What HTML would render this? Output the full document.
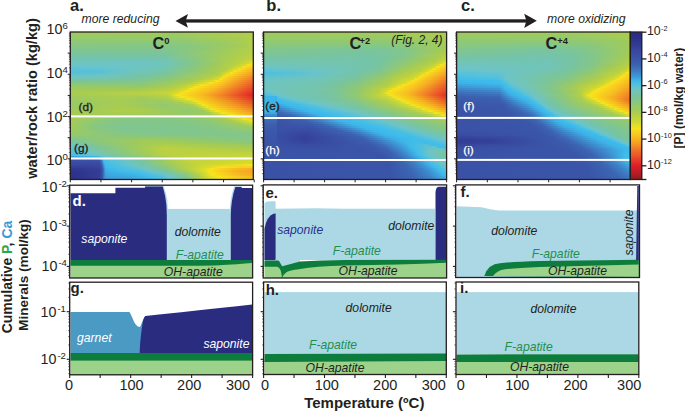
<!DOCTYPE html>
<html><head><meta charset="utf-8"><style>
html,body{margin:0;padding:0;background:#fff;width:685px;height:411px;overflow:hidden}
#hm div{position:absolute}
svg{position:absolute;left:0;top:0}
svg text{font-family:"Liberation Sans",sans-serif}
</style></head><body>
<div id="hm">
<div style="left:70px;top:32px;width:184px;height:2px;background:linear-gradient(90deg,#a0cb5c,#a2cb59 109.5px,#b1cf49)"></div>
<div style="left:70px;top:34px;width:184px;height:2px;background:linear-gradient(90deg,#9cca61,#9dca5f 109.5px,#afce4b 179.5px,#b1cf49)"></div>
<div style="left:70px;top:36px;width:184px;height:2px;background:linear-gradient(90deg,#98ca67,#99ca66 108.5px,#adcd4c 176.5px,#b1cf4a)"></div>
<div style="left:70px;top:38px;width:184px;height:2px;background:linear-gradient(90deg,#94c96d,#94c96c 107.5px,#a7cc52 168.5px,#b1cf4a)"></div>
<div style="left:70px;top:40px;width:184px;height:2px;background:linear-gradient(90deg,#90c973,#90c972 107.5px,#a3cb58 163.5px,#b1cf4a)"></div>
<div style="left:70px;top:42px;width:184px;height:2px;background:linear-gradient(90deg,#8cc878,#8bc87a 103.5px,#9bca63 151.5px,#b1cf4a)"></div>
<div style="left:70px;top:44px;width:184px;height:2px;background:linear-gradient(90deg,#89c77f,#86c783 67.5px,#89c77e 115.5px,#a2cb59 167.5px,#b1cf4a)"></div>
<div style="left:70px;top:46px;width:184px;height:2px;background:linear-gradient(90deg,#85c785,#84c687 99.5px,#8cc878 129.5px,#a6cc53 172.5px,#b2cf49)"></div>
<div style="left:70px;top:48px;width:184px;height:2px;background:linear-gradient(90deg,#82c68c,#82c68d 97.5px,#8fc873 134.5px,#b1ce4a 180.5px,#b4cf47)"></div>
<div style="left:70px;top:50px;width:184px;height:2px;background:linear-gradient(90deg,#7fc593,#7fc592 95.5px,#96c96a 142.5px,#b6d046)"></div>
<div style="left:70px;top:52px;width:184px;height:2px;background:linear-gradient(90deg,#7bc599,#7cc598 94.5px,#9aca64 146.5px,#b4cf48 178.5px,#b8d144)"></div>
<div style="left:70px;top:54px;width:184px;height:2px;background:linear-gradient(90deg,#78c4a0,#79c49d 94.5px,#9dca60 147.5px,#afce4b 169.5px,#bad143)"></div>
<div style="left:70px;top:56px;width:184px;height:2px;background:linear-gradient(90deg,#76c4a8,#76c4a6 93.5px,#95c96b 137.5px,#aece4c 165.5px,#bed240)"></div>
<div style="left:70px;top:58px;width:184px;height:2px;background:linear-gradient(90deg,#73c4af,#73c4af 91.5px,#8bc879 128.5px,#aece4c 163.5px,#bed240 179.5px,#c8d639)"></div>
<div style="left:70px;top:60px;width:184px;height:2px;background:linear-gradient(90deg,#71c4b7,#71c4b8 85.5px,#73c4b1 95.5px,#8ac87d 127.5px,#afce4b 161.5px,#bcd242 174.5px,#d2da31)"></div>
<div style="left:70px;top:62px;width:184px;height:2px;background:linear-gradient(90deg,#6fc4be,#6ec4c3 65.5px,#70c4bc 93.5px,#83c689 122.5px,#a0cb5b 148.5px,#b5d047 166.5px,#d1d931 178.5px,#d9dc2c 180.5px,#f2e21f 182.5px,#f8e11c)"></div>
<div style="left:70px;top:64px;width:184px;height:2px;background:linear-gradient(90deg,#6dc4c6,#6dc4c3 79.5px,#70c4bb 94.5px,#84c688 122.5px,#a0cb5c 146.5px,#b9d144 165.5px,#d7dc2d 175.5px,#f8e21c 178.5px,#f8d21e)"></div>
<div style="left:70px;top:66px;width:184px;height:2px;background:linear-gradient(90deg,#66c3cc,#6bc4c9 37.5px,#70c4bc 86.5px,#73c4b2 96.5px,#87c781 123.5px,#a1cb59 145.5px,#b5d046 160.5px,#d5db2e 170.5px,#dddd2a 171.5px,#f7e41c 173.5px,#f8c620)"></div>
<div style="left:70px;top:68px;width:184px;height:2px;background:linear-gradient(90deg,#5dc2d3,#61c2d0 29.5px,#6dc4c4 60.5px,#73c4b0 94.5px,#89c77e 122.5px,#a2cb58 143.5px,#b3cf48 156.5px,#d7dc2d 166.5px,#f3e31f 168.5px,#f8dd1d 170.5px,#f7b921)"></div>
<div style="left:70px;top:70px;width:184px;height:2px;background:linear-gradient(90deg,#55c0d9,#58c1d7 27.5px,#6dc4c5 58.5px,#75c4aa 94.5px,#8ac87b 121.5px,#a4cb56 142.5px,#b2cf49 153.5px,#cad637 158.5px,#d9dc2c 162.5px,#f6e41d 164.5px,#f6ac22)"></div>
<div style="left:70px;top:72px;width:184px;height:2px;background:linear-gradient(90deg,#56c0d8,#5bc1d5 27.5px,#6dc4c3 53.5px,#78c4a1 94.5px,#95c96b 126.5px,#a9cc4f 144.5px,#b2cf49 150.5px,#dcdd2a 158.5px,#f8e31c 160.5px,#f59f23)"></div>
<div style="left:70px;top:74px;width:184px;height:2px;background:linear-gradient(90deg,#62c2cf,#69c4ca 28.5px,#76c4a5 80.5px,#80c691 98.5px,#aacd4e 141.5px,#b6d046 148.5px,#d6db2d 154.5px,#f8e31c 156.5px,#f39225)"></div>
<div style="left:70px;top:76px;width:184px;height:2px;background:linear-gradient(90deg,#6dc4c6,#70c4bc 34.5px,#78c4a1 75.5px,#84c688 97.5px,#b0ce4a 140.5px,#d1d932 150.5px,#d6db2d 151.5px,#f8e31c 153.5px,#f8cf1f 158.5px,#f18426)"></div>
<div style="left:70px;top:78px;width:184px;height:2px;background:linear-gradient(90deg,#70c4ba,#75c4aa 47.5px,#7cc598 75.5px,#89c77d 97.5px,#a6cc53 127.5px,#bbd143 137.5px,#d6db2d 148.5px,#f8e31c 150.5px,#f8cb1f 156.5px,#f18126 180.5px,#ef7627)"></div>
<div style="left:70px;top:80px;width:184px;height:2px;background:linear-gradient(90deg,#77c4a2,#7fc592 70.5px,#91c971 98.5px,#a7cc52 121.5px,#b1cf4a 126.5px,#c8d639 135.5px,#d6db2d 142.5px,#f8e31c 146.5px,#ed6a28)"></div>
<div style="left:70px;top:82px;width:184px;height:2px;background:linear-gradient(90deg,#82c68b,#85c786 69.5px,#97ca69 97.5px,#adcd4d 117.5px,#b8d145 122.5px,#cbd736 128.5px,#d8dc2c 135.5px,#f8e31c 140.5px,#f8c420 152.5px,#ec5f29)"></div>
<div style="left:70px;top:84px;width:184px;height:2px;background:linear-gradient(90deg,#8ec875,#8bc879 68.5px,#9dca60 96.5px,#b7d045 115.5px,#d6db2d 126.5px,#f7e41d 131.5px,#f8c320 149.5px,#ea5429)"></div>
<div style="left:70px;top:86px;width:184px;height:2px;background:linear-gradient(90deg,#98ca67,#94c96c 68.5px,#a5cc55 96.5px,#bcd242 111.5px,#d6db2e 121.5px,#e7e025 123.5px,#f8e31c 125.5px,#f7bd21 147.5px,#e8492a)"></div>
<div style="left:70px;top:88px;width:184px;height:2px;background:linear-gradient(90deg,#9dca5f,#9fcb5d 68.5px,#aece4c 95.5px,#bed240 106.5px,#d8dc2c 117.5px,#f7e41d 120.5px,#f7bc21 143.5px,#f18726 160.5px,#e63e29)"></div>
<div style="left:70px;top:90px;width:184px;height:2px;background:linear-gradient(90deg,#a3cb58,#abcd4e 69.5px,#bfd240 99.5px,#d8dc2c 112.5px,#f8e31c 116.5px,#f7b621 141.5px,#f28c25 155.5px,#e43329)"></div>
<div style="left:70px;top:92px;width:184px;height:2px;background:linear-gradient(90deg,#a7cc51,#b9d144 73.5px,#c6d53a 98.5px,#d9dc2c 107.5px,#f7e41d 111.5px,#f7b721 136.5px,#f28b25 152.5px,#e22828)"></div>
<div style="left:70px;top:94px;width:184px;height:2px;background:linear-gradient(90deg,#a5cc55,#b6d046 84.5px,#bed240 97.5px,#d3da30 102.5px,#f2e31f 106.5px,#f8e21c 109.5px,#f7b921 132.5px,#f18426 151.5px,#e02028)"></div>
<div style="left:70px;top:96px;width:184px;height:2px;background:linear-gradient(90deg,#a1cb5a,#aacd4e 52.5px,#a8cc50 75.5px,#b4d047 97.5px,#bdd241 99.5px,#d4db2f 104.5px,#e1de28 107.5px,#f8e41c 111.5px,#f7bc21 133.5px,#f18226 154.5px,#e22a28)"></div>
<div style="left:70px;top:98px;width:184px;height:2px;background:linear-gradient(90deg,#9dca5f,#a7cc51 49.5px,#a0cb5b 72.5px,#aacd4e 97.5px,#b5d047 101.5px,#b8d144 102.5px,#c3d43d 103.5px,#d8dc2c 113.5px,#f8e31c 118.5px,#f6b122 141.5px,#ef7527 162.5px,#e53729)"></div>
<div style="left:70px;top:100px;width:184px;height:2px;background:linear-gradient(90deg,#9bca63,#a7cc52 48.5px,#9dca60 72.5px,#a1cb5a 95.5px,#aacd4e 103.5px,#cbd736 115.5px,#dadc2b 121.5px,#f4e31e 124.5px,#f8d81e 128.5px,#f39225 157.5px,#e7452a)"></div>
<div style="left:70px;top:102px;width:184px;height:2px;background:linear-gradient(90deg,#99ca66,#a7cc51 48.5px,#99ca66 92.5px,#a8cc50 111.5px,#d3da30 125.5px,#d7dc2c 126.5px,#f6e31d 128.5px,#f49924 159.5px,#ea5229)"></div>
<div style="left:70px;top:104px;width:184px;height:2px;background:linear-gradient(90deg,#97ca69,#a5cc55 39.5px,#a7cc52 50.5px,#9aca64 79.5px,#93c96e 93.5px,#a3cb58 117.5px,#b0ce4a 122.5px,#d9dc2c 130.5px,#f7e41c 132.5px,#f28c25 168.5px,#ec6029)"></div>
<div style="left:70px;top:106px;width:184px;height:2px;background:linear-gradient(90deg,#98ca68,#a3cb57 34.5px,#a8cc50 49.5px,#a0cb5b 73.5px,#93c96e 93.5px,#9ecb5f 120.5px,#a5cc55 125.5px,#d8dc2c 134.5px,#f5e31e 136.5px,#f8d11e 143.5px,#f5a023 166.5px,#ee6e28)"></div>
<div style="left:70px;top:108px;width:184px;height:2px;background:linear-gradient(90deg,#9cca62,#a6cc53 34.5px,#accd4d 51.5px,#a5cc54 73.5px,#98ca67 96.5px,#97ca68 117.5px,#a0cb5c 128.5px,#aece4c 131.5px,#d6db2d 138.5px,#f0e220 140.5px,#f8e21c 141.5px,#f5a123 171.5px,#f07e27)"></div>
<div style="left:70px;top:110px;width:184px;height:2px;background:linear-gradient(90deg,#a0cb5c,#aacc4f 36.5px,#afce4b 53.5px,#aacd4e 73.5px,#92c96f 116.5px,#9dca5f 132.5px,#b0ce4a 136.5px,#dbdd2a 143.5px,#f8e31c 146.5px,#f6ae22 171.5px,#f38f25)"></div>
<div style="left:70px;top:112px;width:184px;height:2px;background:linear-gradient(90deg,#a3cb57,#abcd4e 58.5px,#a3cb57 84.5px,#93c96e 116.5px,#9ecb5f 136.5px,#aacc4f 139.5px,#c8d639 144.5px,#dadc2b 149.5px,#f7e41c 152.5px,#f5a723 180.5px,#f5a023)"></div>
<div style="left:70px;top:114px;width:184px;height:2px;background:linear-gradient(90deg,#a6cc52,#a3cb57 53.5px,#9aca65 118.5px,#a2cb59 139.5px,#b1ce4a 143.5px,#cad637 150.5px,#dbdd2b 156.5px,#f8e31c 160.5px,#f6af22)"></div>
<div style="left:70px;top:116px;width:184px;height:2px;background:linear-gradient(90deg,#a8cc50,#95c96c 73.5px,#98ca67 122.5px,#a1cb5a 141.5px,#aece4c 148.5px,#c7d53a 155.5px,#d7dc2d 163.5px,#f8e31c 167.5px,#f8c020)"></div>
<div style="left:70px;top:118px;width:184px;height:2px;background:linear-gradient(90deg,#a8cc51,#8ac87b 48.5px,#88c77f 79.5px,#8bc87a 119.5px,#98ca67 141.5px,#a9cc4f 154.5px,#c9d638 164.5px,#d7dc2d 170.5px,#f5e31d 174.5px,#f8ce1f)"></div>
<div style="left:70px;top:120px;width:184px;height:2px;background:linear-gradient(90deg,#a7cc52,#8bc87a 31.5px,#83c689 50.5px,#83c68a 83.5px,#86c784 119.5px,#93c96e 143.5px,#a7cc51 161.5px,#c7d539 170.5px,#d7dc2d 178.5px,#f6e41d 182.5px,#f8e11c)"></div>
<div style="left:70px;top:122px;width:184px;height:2px;background:linear-gradient(90deg,#a5cc55,#8ac87c 28.5px,#82c68c 50.5px,#83c689 112.5px,#8ec876 142.5px,#a6cc53 167.5px,#c9d638 179.5px,#d1d932)"></div>
<div style="left:70px;top:124px;width:184px;height:2px;background:linear-gradient(90deg,#a3cb57,#88c77f 26.5px,#81c68e 51.5px,#83c689 118.5px,#8ac87b 143.5px,#a2cb58 173.5px,#b4d047 180.5px,#bfd240)"></div>
<div style="left:70px;top:126px;width:184px;height:2px;background:linear-gradient(90deg,#a1cb5a,#87c782 25.5px,#80c690 51.5px,#82c68c 114.5px,#87c782 143.5px,#9fcb5d 180.5px,#a3cb57)"></div>
<div style="left:70px;top:128px;width:184px;height:2px;background:linear-gradient(90deg,#9fcb5c,#88c781 27.5px,#81c68f 52.5px,#81c68e 114.5px,#86c785 145.5px,#99ca66)"></div>
<div style="left:70px;top:130px;width:184px;height:2px;background:linear-gradient(90deg,#9ecb5f,#88c781 32.5px,#81c68e 55.5px,#80c68f 112.5px,#84c687 148.5px,#90c973)"></div>
<div style="left:70px;top:132px;width:184px;height:2px;background:linear-gradient(90deg,#9cca61,#83c68a 49.5px,#80c691 82.5px,#82c68c 150.5px,#88c780)"></div>
<div style="left:70px;top:134px;width:184px;height:2px;background:linear-gradient(90deg,#96c96a,#85c786 61.5px,#83c68b 155.5px,#84c687)"></div>
<div style="left:70px;top:136px;width:184px;height:2px;background:linear-gradient(90deg,#8cc879,#8cc878 93.5px,#86c785 149.5px,#85c787)"></div>
<div style="left:70px;top:138px;width:184px;height:2px;background:linear-gradient(90deg,#83c689,#8fc874 30.5px,#97ca68 81.5px,#93c96e 103.5px,#85c787)"></div>
<div style="left:70px;top:140px;width:184px;height:2px;background:linear-gradient(90deg,#7bc59a,#8ec875 28.5px,#a1cb5b 74.5px,#9fcb5d 96.5px,#91c970 131.5px,#86c785)"></div>
<div style="left:70px;top:142px;width:184px;height:2px;background:linear-gradient(90deg,#75c4ab,#89c77d 28.5px,#a2cb58 71.5px,#a6cc53 95.5px,#8fc874 178.5px,#8dc876)"></div>
<div style="left:70px;top:144px;width:184px;height:2px;background:linear-gradient(90deg,#6fc4bd,#84c689 27.5px,#a1cb59 68.5px,#adce4c 95.5px,#98ca67)"></div>
<div style="left:70px;top:146px;width:184px;height:2px;background:linear-gradient(90deg,#64c3ce,#6dc4c3 5.5px,#7ec593 27.5px,#9bca62 61.5px,#b7d046 92.5px,#accd4d 134.5px,#a3cb58)"></div>
<div style="left:70px;top:148px;width:184px;height:2px;background:linear-gradient(90deg,#56c0d9,#6dc4c5 9.5px,#7ec593 32.5px,#a2cb58 70.5px,#bbd143 94.5px,#b7d046 128.5px,#accd4d)"></div>
<div style="left:70px;top:150px;width:184px;height:2px;background:linear-gradient(90deg,#50bfdd,#6dc4c5 12.5px,#8cc879 51.5px,#adce4c 82.5px,#bbd143 94.5px,#b9d144 132.5px,#b4cf47)"></div>
<div style="left:70px;top:152px;width:184px;height:2px;background:linear-gradient(90deg,#4abee2,#6dc4c5 16.5px,#8ac87d 52.5px,#abcd4e 81.5px,#bbd142 94.5px,#bcd242)"></div>
<div style="left:70px;top:154px;width:184px;height:2px;background:linear-gradient(90deg,#41bde9,#6dc4c4 24.5px,#80c691 47.5px,#a4cb56 78.5px,#b9d144 94.5px,#bfd33f 133.5px,#c4d43c)"></div>
<div style="left:70px;top:156px;width:184px;height:2px;background:linear-gradient(90deg,#3c9eda,#3cb8ea 26.5px,#3ebceb 28.5px,#4ebfdf 30.5px,#6cc4c8 33.5px,#83c68b 63.5px,#abcd4e 94.5px,#c2d33d 118.5px,#cbd737)"></div>
<div style="left:70px;top:158px;width:184px;height:2px;background:linear-gradient(90deg,#3b66b2,#3b69b4 27.5px,#3c72bc 29.5px,#3c82c7 30.5px,#3cb6e8 32.5px,#48bee3 33.5px,#55c0da 35.5px,#69c4ca 48.5px,#81c68d 74.5px,#a3cb58 96.5px,#c4d43c 116.5px,#d1d932)"></div>
<div style="left:70px;top:160px;width:184px;height:2px;background:linear-gradient(90deg,#3a50a5,#3a52a6 28.5px,#3b5fad 30.5px,#3c76bf 31.5px,#3cb5e8 33.5px,#45bde5 34.5px,#4fbfde 37.5px,#5fc2d2 48.5px,#6dc4c4 55.5px,#7ac49c 72.5px,#9cca61 94.5px,#bbd142 112.5px,#c4d43c 123.5px,#d4da2f)"></div>
<div style="left:70px;top:162px;width:184px;height:2px;background:linear-gradient(90deg,#384aa1,#394ba2 28.5px,#3a55a8 30.5px,#3b64b1 31.5px,#3ca4de 33.5px,#3cbbec 34.5px,#48bee3 36.5px,#5cc1d4 49.5px,#6dc4c3 58.5px,#76c4a5 71.5px,#99ca66 93.5px,#b7d045 112.5px,#c7d53a 131.5px,#d7db2d)"></div>
<div style="left:70px;top:164px;width:184px;height:2px;background:linear-gradient(90deg,#37469e,#3849a1 29.5px,#3b5aab 31.5px,#3c72bb 32.5px,#3cb0e4 34.5px,#3dbceb 35.5px,#48bee3 41.5px,#5ec2d3 53.5px,#6dc4c4 62.5px,#73c4af 71.5px,#96c96a 95.5px,#b3cf48 112.5px,#cbd736 133.5px,#dddd2a 159.5px,#f7e41c)"></div>
<div style="left:70px;top:166px;width:184px;height:2px;background:linear-gradient(90deg,#343e96,#36449c 29.5px,#3a52a6 31.5px,#3b62b0 32.5px,#3ca2dc 34.5px,#3cb5e8 35.5px,#3cbcec 36.5px,#54c0da 53.5px,#6ec4c0 70.5px,#8cc877 95.5px,#b2cf49 113.5px,#ced834 131.5px,#dddd29 141.5px,#f8e31c 151.5px,#f8d31e 171.5px,#f8cc1f)"></div>
<div style="left:70px;top:168px;width:184px;height:2px;background:linear-gradient(90deg,#303890,#344098 29.5px,#394ca2 31.5px,#3b59aa 32.5px,#3c74bd 33.5px,#3c95d4 34.5px,#3cace2 35.5px,#3cb6e8 36.5px,#3fbdea 45.5px,#65c3ce 70.5px,#6ec4c0 75.5px,#85c786 95.5px,#b1cf49 114.5px,#d2d931 130.5px,#dede29 135.5px,#f8e31c 141.5px,#f7be21 165.5px,#f6af22)"></div>
<div style="left:70px;top:170px;width:184px;height:2px;background:linear-gradient(90deg,#2e338b,#343d95 29.5px,#3849a1 31.5px,#3a56a8 32.5px,#3c6eb8 33.5px,#3c8ecf 34.5px,#3ca6de 35.5px,#3cb0e5 36.5px,#3fbcea 52.5px,#55c0d9 70.5px,#6dc4c5 79.5px,#78c49f 93.5px,#a9cc4f 116.5px,#d0d932 130.5px,#dbdd2b 134.5px,#f6e41d 138.5px,#f6b422 164.5px,#f5a223)"></div>
<div style="left:70px;top:172px;width:184px;height:2px;background:linear-gradient(90deg,#2c3088,#333c94 26.5px,#354199 30.5px,#3a57a9 32.5px,#3c6eb8 33.5px,#3c8cce 34.5px,#3ca1db 35.5px,#3caae1 36.5px,#3ebcea 63.5px,#49bee2 71.5px,#6dc4c6 87.5px,#72c4b3 94.5px,#98ca67 116.5px,#b5d047 125.5px,#dddd29 136.5px,#f2e31f 139.5px,#f8e11c 142.5px,#f7b921 165.5px,#f5a623)"></div>
<div style="left:70px;top:174px;width:184px;height:2px;background:linear-gradient(90deg,#2c3088,#333c94 26.5px,#36429a 30.5px,#3a58a9 32.5px,#3c8bcd 34.5px,#3c9cd9 35.5px,#3ca6df 37.5px,#3cb0e4 59.5px,#3ebcea 73.5px,#62c2cf 92.5px,#6ec4c2 96.5px,#87c782 115.5px,#b0ce4a 127.5px,#d2da31 135.5px,#f7e41d 142.5px,#f7bc21 168.5px,#f6ab22)"></div>
<div style="left:70px;top:176px;width:184px;height:2px;background:linear-gradient(90deg,#2c3088,#333c94 26.5px,#343e96 29.5px,#394ca2 31.5px,#3b59aa 32.5px,#3c8acc 34.5px,#3c98d6 35.5px,#3ca0db 37.5px,#3ca9e0 59.5px,#3cb6e9 73.5px,#40bde9 79.5px,#55c0d9 92.5px,#6cc4c7 98.5px,#81c68e 115.5px,#adce4c 128.5px,#d2d931 136.5px,#f8e31c 147.5px,#f8c520 171.5px,#f7b721)"></div>
<div style="left:70px;top:178px;width:184px;height:2px;background:linear-gradient(90deg,#2c3088,#333c94 26.5px,#343e96 29.5px,#394da3 31.5px,#3b5aab 32.5px,#3c88cb 34.5px,#3c95d4 35.5px,#3c9bd8 38.5px,#3ca4dd 60.5px,#3cb4e7 76.5px,#3fbcea 84.5px,#4abee1 92.5px,#6cc4c7 101.5px,#7cc598 115.5px,#accd4d 129.5px,#d1d931 137.5px,#dedd29 144.5px,#f8e31c 153.5px,#f8c420)"></div>
<div style="left:263px;top:32px;width:184px;height:2px;background:linear-gradient(90deg,#a0cb5b,#a2cb58 112.5px,#accd4d)"></div>
<div style="left:263px;top:34px;width:184px;height:2px;background:linear-gradient(90deg,#9dca60,#9fcb5d 116.5px,#aacc4f)"></div>
<div style="left:263px;top:36px;width:184px;height:2px;background:linear-gradient(90deg,#9aca64,#9bca63 119.5px,#a5cc55 174.5px,#a8cc50)"></div>
<div style="left:263px;top:38px;width:184px;height:2px;background:linear-gradient(90deg,#97ca68,#97ca69 122.5px,#a2cb59 171.5px,#a7cc52)"></div>
<div style="left:263px;top:40px;width:184px;height:2px;background:linear-gradient(90deg,#94c96d,#92c970 119.5px,#9ecb5f 168.5px,#a5cc54)"></div>
<div style="left:263px;top:42px;width:184px;height:2px;background:linear-gradient(90deg,#90c972,#8dc876 122.5px,#99ca66 163.5px,#a5cc54)"></div>
<div style="left:263px;top:44px;width:184px;height:2px;background:linear-gradient(90deg,#8bc879,#88c781 118.5px,#90c873 149.5px,#a6cc53)"></div>
<div style="left:263px;top:46px;width:184px;height:2px;background:linear-gradient(90deg,#88c781,#82c68b 116.5px,#89c77e 143.5px,#a2cb59 178.5px,#a6cc52)"></div>
<div style="left:263px;top:48px;width:184px;height:2px;background:linear-gradient(90deg,#84c688,#7fc591 66.5px,#7ec595 117.5px,#84c687 142.5px,#9fcb5d 175.5px,#a7cc51)"></div>
<div style="left:263px;top:50px;width:184px;height:2px;background:linear-gradient(90deg,#81c68f,#7ac49c 111.5px,#81c68d 140.5px,#a1cb59 176.5px,#aacc4f)"></div>
<div style="left:263px;top:52px;width:184px;height:2px;background:linear-gradient(90deg,#7ec594,#78c49f 107.5px,#7fc591 137.5px,#a9cc4f 180.5px,#aece4c)"></div>
<div style="left:263px;top:54px;width:184px;height:2px;background:linear-gradient(90deg,#7cc599,#77c4a3 103.5px,#7bc59a 125.5px,#83c68b 141.5px,#b0ce4b 181.5px,#b3cf48)"></div>
<div style="left:263px;top:56px;width:184px;height:2px;background:linear-gradient(90deg,#79c49e,#76c4a7 101.5px,#79c49e 121.5px,#82c68c 140.5px,#a6cc52 172.5px,#bad143)"></div>
<div style="left:263px;top:58px;width:184px;height:2px;background:linear-gradient(90deg,#77c4a4,#76c4a7 67.5px,#75c4aa 100.5px,#78c4a0 119.5px,#84c688 140.5px,#a4cb55 167.5px,#b5d047 178.5px,#c8d639)"></div>
<div style="left:263px;top:60px;width:184px;height:2px;background:linear-gradient(90deg,#75c4ab,#75c4ab 100.5px,#77c4a2 117.5px,#8ac87c 142.5px,#a7cc51 166.5px,#b4cf48 174.5px,#d4da30)"></div>
<div style="left:263px;top:62px;width:184px;height:2px;background:linear-gradient(90deg,#73c4b2,#74c4ae 83.5px,#76c4a6 114.5px,#94c96d 146.5px,#abcd4e 164.5px,#b6d046 171.5px,#ced834 177.5px,#dcdd2a 180.5px,#f8e41c 182.5px,#f8df1d)"></div>
<div style="left:263px;top:64px;width:184px;height:2px;background:linear-gradient(90deg,#71c4b9,#73c4b0 67.5px,#74c4ad 99.5px,#77c4a2 116.5px,#9fcb5d 151.5px,#b1cf4a 164.5px,#bad143 168.5px,#d6db2e 175.5px,#f8e31c 178.5px,#f8d21e)"></div>
<div style="left:263px;top:66px;width:184px;height:2px;background:linear-gradient(90deg,#6ec4c2,#72c4b3 78.5px,#75c4ab 101.5px,#79c49f 116.5px,#9ecb5f 146.5px,#bad143 164.5px,#d4da2f 171.5px,#dcdd2a 172.5px,#f8e21c 174.5px,#f8c720)"></div>
<div style="left:263px;top:68px;width:184px;height:2px;background:linear-gradient(90deg,#65c3cd,#71c4b8 70.5px,#75c4ab 98.5px,#7cc599 116.5px,#9ecb5f 141.5px,#b7d045 159.5px,#d7dc2d 168.5px,#f5e31d 170.5px,#f7bc21)"></div>
<div style="left:263px;top:70px;width:184px;height:2px;background:linear-gradient(90deg,#58c1d7,#6ec4c2 60.5px,#74c4ac 96.5px,#7fc593 116.5px,#a3cb57 140.5px,#bad143 156.5px,#d5db2e 164.5px,#f8e21c 167.5px,#f6b022)"></div>
<div style="left:263px;top:72px;width:184px;height:2px;background:linear-gradient(90deg,#4dbfdf,#60c2d1 44.5px,#6ec4c3 66.5px,#75c4aa 96.5px,#82c68c 116.5px,#a9cc4f 139.5px,#bdd241 153.5px,#d8dc2c 161.5px,#f7e41c 163.5px,#f5a523)"></div>
<div style="left:263px;top:74px;width:184px;height:2px;background:linear-gradient(90deg,#54c0da,#68c3cb 48.5px,#76c4a6 94.5px,#89c77e 117.5px,#b0ce4a 138.5px,#bcd242 149.5px,#d6db2e 157.5px,#f0e220 159.5px,#f8e11c 160.5px,#f49a24)"></div>
<div style="left:263px;top:76px;width:184px;height:2px;background:linear-gradient(90deg,#5dc2d3,#6ec4c0 56.5px,#78c4a1 93.5px,#92c96f 119.5px,#b4cf47 136.5px,#bfd33f 146.5px,#d5db2f 153.5px,#dcdd2a 154.5px,#f8e31c 156.5px,#f28d25)"></div>
<div style="left:263px;top:78px;width:184px;height:2px;background:linear-gradient(90deg,#67c3cc,#71c4b9 59.5px,#7ac49d 92.5px,#9bca63 120.5px,#b7d045 134.5px,#d3da30 149.5px,#d8dc2c 150.5px,#f4e31e 152.5px,#f8da1d 155.5px,#f5a823 172.5px,#f18026)"></div>
<div style="left:263px;top:80px;width:184px;height:2px;background:linear-gradient(90deg,#6cc4c6,#72c4b4 59.5px,#78c4a1 81.5px,#7fc592 94.5px,#aacd4e 126.5px,#cbd737 140.5px,#d6db2e 146.5px,#f8e21c 149.5px,#f5a423 170.5px,#ef7427)"></div>
<div style="left:263px;top:82px;width:184px;height:2px;background:linear-gradient(90deg,#6dc4c4,#73c4b2 56.5px,#77c4a2 75.5px,#83c68a 94.5px,#aacc4f 123.5px,#bcd242 131.5px,#d1d932 139.5px,#dadc2b 142.5px,#f8e41c 145.5px,#f5a523 167.5px,#ed6928)"></div>
<div style="left:263px;top:84px;width:184px;height:2px;background:linear-gradient(90deg,#6ec4c1,#73c4b0 54.5px,#79c49f 74.5px,#87c782 94.5px,#a8cc50 118.5px,#b6d046 126.5px,#c9d638 131.5px,#dbdd2b 137.5px,#f8e41c 140.5px,#f7b521 159.5px,#ef7827 176.5px,#ec5f29)"></div>
<div style="left:263px;top:86px;width:184px;height:2px;background:linear-gradient(90deg,#6fc4bf,#74c4ad 53.5px,#7ac49b 73.5px,#8bc87a 94.5px,#aece4c 116.5px,#b8d144 123.5px,#dcdd2a 132.5px,#f7e41d 135.5px,#f7be21 153.5px,#f18426 170.5px,#ea5529)"></div>
<div style="left:263px;top:88px;width:184px;height:2px;background:linear-gradient(90deg,#6ec4c1,#73c4b2 42.5px,#7bc59b 72.5px,#8fc873 95.5px,#b4cf47 115.5px,#bcd242 119.5px,#d7dc2d 127.5px,#f4e31e 130.5px,#f8dd1d 135.5px,#f7bb21 151.5px,#f18126 168.5px,#e94c2a)"></div>
<div style="left:263px;top:90px;width:184px;height:2px;background:linear-gradient(90deg,#6ac4ca,#70c4ba 15.5px,#75c4ac 53.5px,#7bc59a 72.5px,#91c971 95.5px,#b4d047 113.5px,#bed241 117.5px,#dadd2b 124.5px,#f7e41c 127.5px,#f7be21 147.5px,#f18626 164.5px,#e7422a)"></div>
<div style="left:263px;top:92px;width:184px;height:2px;background:linear-gradient(90deg,#57c1d8,#6cc4c7 8.5px,#71c4b7 23.5px,#75c4ab 54.5px,#7bc59a 72.5px,#93c96e 95.5px,#b4cf48 111.5px,#bdd241 116.5px,#d7dc2d 121.5px,#eee221 123.5px,#f8e31c 125.5px,#f7bb21 145.5px,#f18426 162.5px,#e53829)"></div>
<div style="left:263px;top:94px;width:184px;height:2px;background:linear-gradient(90deg,#44bde6,#6cc4c7 14.5px,#71c4b7 28.5px,#75c4aa 56.5px,#7ac49c 71.5px,#95c96c 95.5px,#b5d047 110.5px,#d3da30 122.5px,#dfde28 124.5px,#f3e31f 126.5px,#f8e11c 128.5px,#f7bb21 145.5px,#f18326 161.5px,#e32e29)"></div>
<div style="left:263px;top:96px;width:184px;height:2px;background:linear-gradient(90deg,#3cb5e8,#3cb5e8 13.5px,#5ac1d6 14.5px,#6dc4c6 21.5px,#70c4ba 31.5px,#77c4a3 68.5px,#93c96e 95.5px,#b4d047 111.5px,#bed240 116.5px,#ced834 124.5px,#d7dc2d 127.5px,#f6e31d 130.5px,#f7b921 149.5px,#f18326 164.5px,#e53829)"></div>
<div style="left:263px;top:98px;width:184px;height:2px;background:linear-gradient(90deg,#3cb5e8,#3cb5e8 13.5px,#45bee5 14.5px,#6cc4c7 27.5px,#78c4a1 71.5px,#8cc879 94.5px,#b3cf48 115.5px,#bdd241 123.5px,#d6db2d 131.5px,#f3e31f 134.5px,#f8e01c 136.5px,#f7b721 153.5px,#f18226 168.5px,#e8472a)"></div>
<div style="left:263px;top:100px;width:184px;height:2px;background:linear-gradient(90deg,#3cb5e8,#3cb5e8 13.5px,#3cbcec 14.5px,#48bee3 22.5px,#68c3cb 34.5px,#70c4ba 50.5px,#78c4a1 74.5px,#87c782 94.5px,#aacc4f 117.5px,#b8d045 126.5px,#cfd834 133.5px,#d7dc2c 136.5px,#f8e41c 139.5px,#f6b422 158.5px,#f18226 172.5px,#ea5729)"></div>
<div style="left:263px;top:102px;width:184px;height:2px;background:linear-gradient(90deg,#3cb5e8,#3cb8ea 16.5px,#40bde9 25.5px,#6cc4c8 47.5px,#80c691 92.5px,#a4cb55 119.5px,#b9d144 130.5px,#d1d932 138.5px,#dbdd2a 141.5px,#f2e21f 143.5px,#f8e21c 144.5px,#f6b422 162.5px,#f18226 176.5px,#ed6628)"></div>
<div style="left:263px;top:104px;width:184px;height:2px;background:linear-gradient(90deg,#3cb5e8,#3cb5e8 13.5px,#3ca5de 14.5px,#3cbaea 24.5px,#42bde7 34.5px,#6dc4c6 57.5px,#7cc597 93.5px,#a9cc50 127.5px,#bfd33f 136.5px,#d6db2e 145.5px,#f8e31c 149.5px,#f6ac22 169.5px,#ef7827)"></div>
<div style="left:263px;top:106px;width:184px;height:2px;background:linear-gradient(90deg,#3cb5e8,#3cb5e8 13.5px,#3c90d1 14.5px,#3cb6e8 28.5px,#3fbcea 39.5px,#6dc4c5 67.5px,#78c4a0 93.5px,#a6cc53 131.5px,#bfd240 142.5px,#d7db2d 151.5px,#f5e31e 154.5px,#f8c520 166.5px,#f28b25)"></div>
<div style="left:263px;top:108px;width:184px;height:2px;background:linear-gradient(90deg,#3cb5e8,#3cb5e8 13.5px,#3c7dc3 14.5px,#3cb6e8 35.5px,#3fbdea 47.5px,#6dc4c5 76.5px,#75c4a8 94.5px,#96c96a 125.5px,#aacd4f 141.5px,#bfd240 148.5px,#d8dc2c 157.5px,#f8e31c 160.5px,#f49f24)"></div>
<div style="left:263px;top:110px;width:184px;height:2px;background:linear-gradient(90deg,#3cb5e8,#3cb5e8 13.5px,#3c6db8 14.5px,#3ca0db 33.5px,#3cb9ea 44.5px,#42bde8 57.5px,#6dc4c5 85.5px,#86c783 119.5px,#a5cc54 144.5px,#b0ce4a 150.5px,#cbd736 158.5px,#d9dc2b 163.5px,#f8e41c 166.5px,#f6b022)"></div>
<div style="left:263px;top:112px;width:184px;height:2px;background:linear-gradient(90deg,#3caae1,#3caae1 13.5px,#3b61ae 14.5px,#3c83c8 30.5px,#3cb4e7 48.5px,#3ebceb 60.5px,#62c2cf 86.5px,#6ec4c1 94.5px,#83c689 122.5px,#a5cc54 151.5px,#afce4b 156.5px,#c8d639 163.5px,#d7dc2d 169.5px,#f6e41d 172.5px,#f8c320)"></div>
<div style="left:263px;top:114px;width:184px;height:2px;background:linear-gradient(90deg,#3c8ecf,#3c8ecf 13.5px,#3b5bab 14.5px,#3b6ab5 26.5px,#3c8cce 40.5px,#3cb6e9 56.5px,#3fbcea 69.5px,#5fc2d2 91.5px,#6dc4c4 99.5px,#85c787 129.5px,#a9cc4f 162.5px,#ccd735 172.5px,#dadc2b 176.5px,#f8e31c 179.5px,#f8d41e)"></div>
<div style="left:263px;top:116px;width:184px;height:2px;background:linear-gradient(90deg,#3c7ec4,#3c7ec4 13.5px,#3a58a9 14.5px,#3b64b1 30.5px,#3c86ca 45.5px,#3cb5e8 62.5px,#3dbceb 74.5px,#53c0db 92.5px,#6dc4c5 105.5px,#88c781 141.5px,#a2cb58 167.5px,#cbd737 178.5px,#dbdd2a)"></div>
<div style="left:263px;top:118px;width:184px;height:2px;background:linear-gradient(90deg,#3c72bc,#3c72bc 13.5px,#3a55a8 14.5px,#3b62b0 36.5px,#3c84c8 51.5px,#3cb5e8 69.5px,#3dbceb 81.5px,#50bfdd 97.5px,#6dc4c4 112.5px,#83c68a 143.5px,#a1cb5a 173.5px,#c6d53b)"></div>
<div style="left:263px;top:120px;width:184px;height:2px;background:linear-gradient(90deg,#3b6ab5,#3b6ab5 13.5px,#3a54a7 14.5px,#3b60ae 42.5px,#3c84c8 58.5px,#3cb5e8 76.5px,#3dbceb 88.5px,#51bfdc 104.5px,#6dc4c5 118.5px,#84c687 150.5px,#a1cb5a 180.5px,#a9cc4f)"></div>
<div style="left:263px;top:122px;width:184px;height:2px;background:linear-gradient(90deg,#3b63b0,#3b63b0 13.5px,#3a53a6 14.5px,#3b5cac 45.5px,#3c6db8 56.5px,#3cb5e8 83.5px,#3ebceb 96.5px,#54c0da 112.5px,#6ec4c3 125.5px,#82c68b 154.5px,#9aca64)"></div>
<div style="left:263px;top:124px;width:184px;height:2px;background:linear-gradient(90deg,#3b5fad,#3b5fad 13.5px,#3a52a6 14.5px,#3a58a9 46.5px,#3b65b2 59.5px,#3c8dcf 75.5px,#3cb6e8 90.5px,#3ebceb 103.5px,#54c0da 119.5px,#6dc4c4 131.5px,#7fc592 157.5px,#92c970)"></div>
<div style="left:263px;top:126px;width:184px;height:2px;background:linear-gradient(90deg,#3b5cac,#3b5cac 13.5px,#3a51a6 14.5px,#3a53a7 47.5px,#3b66b2 66.5px,#3c8ecf 82.5px,#3cb6e8 97.5px,#3ebcea 110.5px,#53c0db 125.5px,#6dc4c3 138.5px,#7fc593 163.5px,#8cc879)"></div>
<div style="left:263px;top:128px;width:184px;height:2px;background:linear-gradient(90deg,#3b5aab,#3b5aab 13.5px,#3a51a5 14.5px,#394fa4 47.5px,#3b65b1 72.5px,#3c88cb 87.5px,#3cb5e8 103.5px,#3ebceb 116.5px,#52c0dc 131.5px,#6dc4c4 144.5px,#80c690 170.5px,#88c77f)"></div>
<div style="left:263px;top:130px;width:184px;height:2px;background:linear-gradient(90deg,#3a59aa,#3a59aa 13.5px,#3a50a5 14.5px,#384aa1 44.5px,#3b63b1 78.5px,#3c86ca 93.5px,#3cb3e7 108.5px,#3cbcec 120.5px,#4bbee1 134.5px,#6dc4c4 150.5px,#7fc592 175.5px,#85c787)"></div>
<div style="left:263px;top:132px;width:184px;height:2px;background:linear-gradient(90deg,#3a58a9,#3a58a9 13.5px,#394fa4 14.5px,#37469e 42.5px,#3b64b1 85.5px,#3c7ec4 97.5px,#3cafe4 112.5px,#3cbcec 123.5px,#45bee5 137.5px,#6dc4c3 157.5px,#7ec594 180.5px,#80c690)"></div>
<div style="left:263px;top:134px;width:184px;height:2px;background:linear-gradient(90deg,#3a57a9,#3a57a9 13.5px,#394fa4 14.5px,#36439b 41.5px,#3b62b0 91.5px,#3c7bc2 101.5px,#3cafe4 118.5px,#3cbcec 130.5px,#45bee5 144.5px,#6ec4c3 164.5px,#7ac49b)"></div>
<div style="left:263px;top:136px;width:184px;height:2px;background:linear-gradient(90deg,#3a56a8,#3a56a8 13.5px,#394ea4 14.5px,#354199 41.5px,#3a56a8 80.5px,#3b64b1 98.5px,#3cade3 123.5px,#3cbcec 136.5px,#44bde6 150.5px,#6dc4c5 170.5px,#75c4a9)"></div>
<div style="left:263px;top:138px;width:184px;height:2px;background:linear-gradient(90deg,#3a55a8,#3a55a8 13.5px,#394ea4 14.5px,#354199 41.5px,#3a53a7 77.5px,#3b5fae 100.5px,#3cafe4 130.5px,#3cbcec 144.5px,#46bee5 158.5px,#6ec4c3 178.5px,#71c4b8)"></div>
<div style="left:263px;top:140px;width:184px;height:2px;background:linear-gradient(90deg,#3a55a7,#3a55a7 13.5px,#394ea4 15.5px,#36429a 41.5px,#3a53a6 79.5px,#3b5dac 102.5px,#3c76bf 114.5px,#3cb1e6 136.5px,#3ebceb 147.5px,#41bde8 161.5px,#61c2d0 178.5px,#6cc4c7)"></div>
<div style="left:263px;top:142px;width:184px;height:2px;background:linear-gradient(90deg,#3a54a7,#3a54a7 13.5px,#394fa4 16.5px,#37469e 43.5px,#3a53a6 83.5px,#3b5cab 105.5px,#3c6eb8 115.5px,#3cb7e9 142.5px,#42bde7 149.5px,#49bee2 157.5px,#44bde6 159.5px,#44bde6 160.5px,#3cbcec 161.5px,#4bbfe0 175.5px,#5dc1d3)"></div>
<div style="left:263px;top:144px;width:184px;height:2px;background:linear-gradient(90deg,#3a54a7,#3a54a7 13.5px,#394ea4 20.5px,#384aa1 47.5px,#3a59aa 106.5px,#3b68b4 117.5px,#3c92d2 132.5px,#3cbcec 146.5px,#54c0da 162.5px,#56c0d9 164.5px,#4abee1 165.5px,#4bbfe0 167.5px,#3cbcec 168.5px,#4cbfe0 182.5px,#4ebfdf)"></div>
<div style="left:263px;top:146px;width:184px;height:2px;background:linear-gradient(90deg,#3a53a7,#394da3 48.5px,#3a58a9 108.5px,#3b67b3 121.5px,#3c9ad8 138.5px,#3dbceb 148.5px,#5ec2d3 164.5px,#66c3cc 171.5px,#53c0db 172.5px,#54c0da 174.5px,#3cbcec 175.5px,#43bde7)"></div>
<div style="left:263px;top:148px;width:184px;height:2px;background:linear-gradient(90deg,#3a53a7,#3a50a5 56.5px,#3a57a9 111.5px,#3b63b0 123.5px,#3c91d1 138.5px,#3ebcea 150.5px,#67c3cb 166.5px,#6fc4bc 178.5px,#5dc2d3 179.5px,#5fc2d2 181.5px,#3cbcec 182.5px,#3dbceb)"></div>
<div style="left:263px;top:150px;width:184px;height:2px;background:linear-gradient(90deg,#3a53a7,#3a53a6 103.5px,#3b5fad 124.5px,#3c84c8 137.5px,#3cbcec 151.5px,#6cc4c8 166.5px,#74c4ad)"></div>
<div style="left:263px;top:152px;width:184px;height:2px;background:linear-gradient(90deg,#3a53a6,#3a55a8 115.5px,#3b62af 128.5px,#3c86ca 140.5px,#3ebcea 153.5px,#6dc4c6 166.5px,#77c4a3 182.5px,#77c4a3)"></div>
<div style="left:263px;top:154px;width:184px;height:2px;background:linear-gradient(90deg,#3a53a6,#3a55a8 118.5px,#3b64b1 131.5px,#3c8acc 143.5px,#3cbcec 154.5px,#6cc4c7 166.5px,#7ac49d 182.5px,#7ac49c)"></div>
<div style="left:263px;top:156px;width:184px;height:2px;background:linear-gradient(90deg,#3a53a6,#3a55a8 121.5px,#3b66b2 134.5px,#3c87ca 145.5px,#3dbceb 157.5px,#6dc4c5 169.5px,#78c49f)"></div>
<div style="left:263px;top:158px;width:184px;height:2px;background:linear-gradient(90deg,#3a52a6,#3a55a8 123.5px,#3b65b2 136.5px,#3c88cb 148.5px,#3dbceb 160.5px,#6cc4c8 171.5px,#76c4a6)"></div>
<div style="left:263px;top:160px;width:184px;height:2px;background:linear-gradient(90deg,#3a52a6,#3a55a8 124.5px,#3b65b2 138.5px,#3c86c9 150.5px,#3cabe1 159.5px,#3ebceb 163.5px,#6cc4c7 174.5px,#74c4ad)"></div>
<div style="left:263px;top:162px;width:184px;height:2px;background:linear-gradient(90deg,#3a52a6,#3a55a8 125.5px,#3b65b2 140.5px,#3c84c8 152.5px,#3cace2 162.5px,#3ebcea 166.5px,#6cc4c7 177.5px,#72c4b6)"></div>
<div style="left:263px;top:164px;width:184px;height:2px;background:linear-gradient(90deg,#3a52a6,#3a55a8 126.5px,#3b65b2 142.5px,#3c86ca 155.5px,#3cade3 165.5px,#3cbbeb 168.5px,#6dc4c6 180.5px,#6fc4bf)"></div>
<div style="left:263px;top:166px;width:184px;height:2px;background:linear-gradient(90deg,#3a52a6,#3a55a8 126.5px,#3b66b2 144.5px,#3c85c9 157.5px,#3ca6de 166.5px,#3cbcec 171.5px,#6cc4c8)"></div>
<div style="left:263px;top:168px;width:184px;height:2px;background:linear-gradient(90deg,#3a52a6,#3a55a8 126.5px,#3b65b1 145.5px,#3c84c8 159.5px,#3ca8e0 169.5px,#3ebcea 174.5px,#61c2d0)"></div>
<div style="left:263px;top:170px;width:184px;height:2px;background:linear-gradient(90deg,#3a52a6,#3a55a8 127.5px,#3b66b2 147.5px,#3c84c8 161.5px,#3ca6df 171.5px,#3cbcec 176.5px,#56c0d9)"></div>
<div style="left:263px;top:172px;width:184px;height:2px;background:linear-gradient(90deg,#3a52a6,#3a55a8 127.5px,#3b65b2 148.5px,#3c84c8 163.5px,#3ca5de 173.5px,#3ebceb 179.5px,#4bbfe1)"></div>
<div style="left:263px;top:174px;width:184px;height:2px;background:linear-gradient(90deg,#3a52a6,#3a55a8 127.5px,#3b65b2 149.5px,#3c84c8 165.5px,#3ca4dd 175.5px,#3cbcec 181.5px,#41bde8)"></div>
<div style="left:263px;top:176px;width:184px;height:2px;background:linear-gradient(90deg,#3a52a6,#3a55a8 127.5px,#3b65b2 150.5px,#3c82c7 166.5px,#3ca3dd 177.5px,#3cb8e9)"></div>
<div style="left:263px;top:178px;width:184px;height:2px;background:linear-gradient(90deg,#3a52a6,#3a55a8 127.5px,#3b66b2 151.5px,#3c83c8 168.5px,#3ca3dd 179.5px,#3cafe4)"></div>
<div style="left:457px;top:32px;width:173px;height:2px;background:linear-gradient(90deg,#a0cb5c,#a2cb59 124.5px,#abcd4e)"></div>
<div style="left:457px;top:34px;width:173px;height:2px;background:linear-gradient(90deg,#9cca61,#9dca5f 123.5px,#a8cc50)"></div>
<div style="left:457px;top:36px;width:173px;height:2px;background:linear-gradient(90deg,#98ca66,#99ca66 122.5px,#a6cc52)"></div>
<div style="left:457px;top:38px;width:173px;height:2px;background:linear-gradient(90deg,#95c96c,#95c96c 122.5px,#a1cb5a 165.5px,#a4cb55)"></div>
<div style="left:457px;top:40px;width:173px;height:2px;background:linear-gradient(90deg,#91c971,#90c972 120.5px,#9cca61 160.5px,#a2cb58)"></div>
<div style="left:457px;top:42px;width:173px;height:2px;background:linear-gradient(90deg,#8dc876,#8ac87c 83.5px,#8dc877 127.5px,#9bca62 162.5px,#a1cb59)"></div>
<div style="left:457px;top:44px;width:173px;height:2px;background:linear-gradient(90deg,#8ac87d,#85c786 103.5px,#8fc874 142.5px,#a1cb59)"></div>
<div style="left:457px;top:46px;width:173px;height:2px;background:linear-gradient(90deg,#87c783,#80c690 96.5px,#87c782 130.5px,#a1cb59)"></div>
<div style="left:457px;top:48px;width:173px;height:2px;background:linear-gradient(90deg,#83c689,#7bc59a 93.5px,#81c68e 122.5px,#99ca65 162.5px,#a1cb59)"></div>
<div style="left:457px;top:50px;width:173px;height:2px;background:linear-gradient(90deg,#80c690,#78c4a0 92.5px,#7dc595 118.5px,#89c77f 141.5px,#a2cb58)"></div>
<div style="left:457px;top:52px;width:173px;height:2px;background:linear-gradient(90deg,#7dc596,#77c4a5 92.5px,#7bc599 117.5px,#86c784 138.5px,#a4cb56)"></div>
<div style="left:457px;top:54px;width:173px;height:2px;background:linear-gradient(90deg,#7ac49c,#75c4a9 93.5px,#78c49f 114.5px,#84c689 136.5px,#a5cc54)"></div>
<div style="left:457px;top:56px;width:173px;height:2px;background:linear-gradient(90deg,#77c4a3,#74c4ad 93.5px,#77c4a4 113.5px,#82c68c 135.5px,#a7cc52)"></div>
<div style="left:457px;top:58px;width:173px;height:2px;background:linear-gradient(90deg,#75c4a9,#73c4b0 93.5px,#76c4a6 113.5px,#81c68d 134.5px,#a9cc4f)"></div>
<div style="left:457px;top:60px;width:173px;height:2px;background:linear-gradient(90deg,#73c4af,#72c4b3 91.5px,#76c4a5 113.5px,#81c68d 133.5px,#aece4c)"></div>
<div style="left:457px;top:62px;width:173px;height:2px;background:linear-gradient(90deg,#71c4b6,#72c4b6 90.5px,#77c4a4 114.5px,#82c68b 133.5px,#a6cc53 164.5px,#b3cf48)"></div>
<div style="left:457px;top:64px;width:173px;height:2px;background:linear-gradient(90deg,#70c4bc,#71c4b8 90.5px,#77c4a2 115.5px,#82c68c 132.5px,#a2cb58 158.5px,#b8d144)"></div>
<div style="left:457px;top:66px;width:173px;height:2px;background:linear-gradient(90deg,#6ec4c2,#71c4b8 89.5px,#78c4a1 114.5px,#84c688 132.5px,#a3cb57 155.5px,#b8d145 169.5px,#c6d53b)"></div>
<div style="left:457px;top:68px;width:173px;height:2px;background:linear-gradient(90deg,#6bc4c9,#6ec4c0 50.5px,#72c4b3 92.5px,#79c49e 113.5px,#87c782 132.5px,#a6cc53 153.5px,#b8d045 166.5px,#d0d932)"></div>
<div style="left:457px;top:70px;width:173px;height:2px;background:linear-gradient(90deg,#63c3cf,#6dc4c6 45.5px,#75c4ab 97.5px,#7bc599 114.5px,#8ac87c 132.5px,#abcd4e 152.5px,#b9d144 163.5px,#d6db2e 170.5px,#f2e21f)"></div>
<div style="left:457px;top:72px;width:173px;height:2px;background:linear-gradient(90deg,#5bc1d5,#65c3cd 42.5px,#6dc4c4 52.5px,#78c4a1 105.5px,#8ec876 132.5px,#b1cf49 151.5px,#bbd142 160.5px,#d6db2d 167.5px,#f5e31d 169.5px,#f8da1d)"></div>
<div style="left:457px;top:74px;width:173px;height:2px;background:linear-gradient(90deg,#53c0db,#5fc2d2 41.5px,#6dc4c5 50.5px,#7cc598 108.5px,#97ca68 134.5px,#b7d045 151.5px,#bed241 157.5px,#d7dc2d 164.5px,#f6e31d 166.5px,#f8d21e)"></div>
<div style="left:457px;top:76px;width:173px;height:2px;background:linear-gradient(90deg,#4abee2,#58c1d7 41.5px,#6dc4c6 50.5px,#75c4a9 83.5px,#82c68d 110.5px,#aacc4f 142.5px,#cdd735 158.5px,#d7dc2c 161.5px,#f7e41d 163.5px,#f8ca1f)"></div>
<div style="left:457px;top:78px;width:173px;height:2px;background:linear-gradient(90deg,#3ebcea,#4dbfe0 41.5px,#6bc4c9 49.5px,#74c4ae 71.5px,#83c689 108.5px,#afce4b 141.5px,#d2d931 156.5px,#dede29 158.5px,#f8e41c 160.5px,#f8c320)"></div>
<div style="left:457px;top:80px;width:173px;height:2px;background:linear-gradient(90deg,#3cb9ea,#3ebcea 41.5px,#47bee4 43.5px,#65c3cd 49.5px,#6ec4c3 54.5px,#78c4a1 84.5px,#89c77d 110.5px,#aacd4e 134.5px,#c0d33f 146.5px,#d8dc2c 154.5px,#f3e31e 156.5px,#f8df1d 158.5px,#f7bb21)"></div>
<div style="left:457px;top:82px;width:173px;height:2px;background:linear-gradient(90deg,#3cb1e5,#3fbcea 44.5px,#63c2cf 51.5px,#6dc4c5 56.5px,#81c68e 96.5px,#95c96b 115.5px,#aece4b 131.5px,#bfd240 142.5px,#d6db2e 150.5px,#f8e41c 153.5px,#f6b322)"></div>
<div style="left:457px;top:84px;width:173px;height:2px;background:linear-gradient(90deg,#3ca4de,#3cb3e6 42.5px,#3dbcec 46.5px,#61c2d1 53.5px,#6dc4c4 60.5px,#81c68d 94.5px,#99ca66 114.5px,#b6d046 130.5px,#c0d33f 138.5px,#d6db2e 146.5px,#f3e31e 149.5px,#f8df1d 151.5px,#f7b721 168.5px,#f6ab22)"></div>
<div style="left:457px;top:86px;width:173px;height:2px;background:linear-gradient(90deg,#3c95d4,#3ca7df 42.5px,#3cbaeb 47.5px,#45bde6 50.5px,#59c1d6 54.5px,#6dc4c6 62.5px,#82c68c 93.5px,#a3cb57 117.5px,#c0d33f 131.5px,#d3da30 141.5px,#e0de28 143.5px,#f4e31e 145.5px,#f8dc1d 149.5px,#f7b821 165.5px,#f5a323)"></div>
<div style="left:457px;top:88px;width:173px;height:2px;background:linear-gradient(90deg,#3c88cb,#3c97d6 42.5px,#3cb7e9 48.5px,#3dbceb 51.5px,#60c2d1 60.5px,#6dc4c4 66.5px,#82c68c 93.5px,#a7cc52 118.5px,#d8dc2c 138.5px,#f5e31e 141.5px,#f8c720 157.5px,#f49c24)"></div>
<div style="left:457px;top:90px;width:173px;height:2px;background:linear-gradient(90deg,#3c79c1,#3c8acc 42.5px,#3cb5e8 50.5px,#40bde9 55.5px,#6bc4c9 67.5px,#83c68a 95.5px,#a4cb56 117.5px,#bdd241 126.5px,#d6db2e 134.5px,#f4e31e 137.5px,#f8e01c 140.5px,#f7bb21 159.5px,#f39325)"></div>
<div style="left:457px;top:92px;width:173px;height:2px;background:linear-gradient(90deg,#3c6fb9,#3c7cc3 42.5px,#3cb4e7 52.5px,#3dbceb 58.5px,#6dc4c6 71.5px,#84c688 97.5px,#a1cb5a 116.5px,#b5d046 124.5px,#cad637 127.5px,#d7db2d 131.5px,#f4e31e 134.5px,#f8e01c 137.5px,#f7bc21 156.5px,#f28a25)"></div>
<div style="left:457px;top:94px;width:173px;height:2px;background:linear-gradient(90deg,#3b65b2,#3c71ba 42.5px,#3cace2 53.5px,#3cbbec 61.5px,#49bee3 65.5px,#6dc4c5 74.5px,#8bc87a 104.5px,#b1cf4a 123.5px,#ced834 127.5px,#dddd2a 129.5px,#f2e21f 131.5px,#f8e31c 133.5px,#f7ba21 154.5px,#f18526 171.5px,#f18226)"></div>
<div style="left:457px;top:96px;width:173px;height:2px;background:linear-gradient(90deg,#3b5fad,#3b67b3 42.5px,#3c88cb 49.5px,#3ca6de 55.5px,#3cbaeb 63.5px,#40bde9 67.5px,#6cc4c7 76.5px,#84c687 100.5px,#9cca61 115.5px,#b1cf49 124.5px,#c8d639 127.5px,#d7db2d 130.5px,#f4e31e 133.5px,#f8da1d 138.5px,#f5a923 158.5px,#f07927)"></div>
<div style="left:457px;top:98px;width:173px;height:2px;background:linear-gradient(90deg,#3b5bab,#3b5fae 42.5px,#3c80c5 50.5px,#3c9eda 57.5px,#3cb8ea 66.5px,#41bde9 71.5px,#6bc4c9 78.5px,#7ec595 96.5px,#96c969 114.5px,#adcd4d 125.5px,#bcd241 128.5px,#c6d53b 129.5px,#d8dc2c 134.5px,#f1e21f 136.5px,#f8e31c 137.5px,#f7b821 153.5px,#ee7128)"></div>
<div style="left:457px;top:100px;width:173px;height:2px;background:linear-gradient(90deg,#3a59aa,#3b5dac 43.5px,#3c6fb9 49.5px,#3c96d5 59.5px,#3cb6e9 69.5px,#3fbde9 74.5px,#6cc4c7 81.5px,#7bc599 96.5px,#94c96c 115.5px,#aece4c 128.5px,#d9dc2b 138.5px,#f1e21f 140.5px,#f8e31c 141.5px,#f7b821 156.5px,#f18626 168.5px,#ef7228)"></div>
<div style="left:457px;top:102px;width:173px;height:2px;background:linear-gradient(90deg,#3a56a9,#3b5bab 44.5px,#3b69b5 50.5px,#3cb4e7 72.5px,#3cbcec 76.5px,#69c4ca 83.5px,#79c49e 96.5px,#94c96c 117.5px,#adcd4c 131.5px,#d7dc2c 142.5px,#f8e31c 145.5px,#f7b621 160.5px,#f18326)"></div>
<div style="left:457px;top:104px;width:173px;height:2px;background:linear-gradient(90deg,#3a55a8,#3b59aa 45.5px,#3b64b1 51.5px,#3c9ad7 68.5px,#3cb9ea 77.5px,#3cbcec 79.5px,#6bc4c9 86.5px,#76c4a5 96.5px,#94c96c 120.5px,#a8cc50 134.5px,#bbd142 139.5px,#d6db2d 146.5px,#f8e31c 149.5px,#f6ad22 166.5px,#f39524)"></div>
<div style="left:457px;top:106px;width:173px;height:2px;background:linear-gradient(90deg,#3a54a7,#3a58a9 46.5px,#3b6bb6 57.5px,#3c96d5 71.5px,#3cb8e9 79.5px,#3dbceb 82.5px,#6cc4c7 89.5px,#76c4a8 98.5px,#9aca64 128.5px,#a9cc4f 140.5px,#cdd835 148.5px,#dadc2b 151.5px,#f4e31e 153.5px,#f8da1d 156.5px,#f6ad22 170.5px,#f5a523)"></div>
<div style="left:457px;top:108px;width:173px;height:2px;background:linear-gradient(90deg,#3a53a7,#3a57a9 47.5px,#3b66b3 59.5px,#3c89cc 71.5px,#3cb5e8 81.5px,#3ebceb 85.5px,#69c4ca 91.5px,#76c4a7 102.5px,#a3cb57 141.5px,#abcd4e 145.5px,#c8d639 151.5px,#d6db2e 155.5px,#f8e31c 158.5px,#f7b521)"></div>
<div style="left:457px;top:110px;width:173px;height:2px;background:linear-gradient(90deg,#3a53a6,#3a57a9 49.5px,#3b66b3 63.5px,#3c82c7 73.5px,#3cb6e8 84.5px,#3ebcea 88.5px,#68c3cb 94.5px,#75c4aa 105.5px,#97ca69 137.5px,#aacd4e 149.5px,#cfd833 158.5px,#d7dc2d 160.5px,#f8e31c 163.5px,#f8c620)"></div>
<div style="left:457px;top:112px;width:173px;height:2px;background:linear-gradient(90deg,#3a52a6,#3a56a8 51.5px,#3b64b1 66.5px,#3c79c1 74.5px,#3cb3e7 86.5px,#3fbdea 91.5px,#6bc4c9 98.5px,#75c4aa 109.5px,#93c96e 139.5px,#a9cc4f 154.5px,#ccd736 162.5px,#dddd2a 166.5px,#f6e41d 168.5px,#f8d41e)"></div>
<div style="left:457px;top:114px;width:173px;height:2px;background:linear-gradient(90deg,#3a52a6,#3a56a8 54.5px,#3b64b1 70.5px,#3c7fc5 78.5px,#3cb3e7 89.5px,#3ebcea 94.5px,#6cc4c7 102.5px,#7cc598 122.5px,#a0cb5c 155.5px,#aacd4f 160.5px,#ccd735 168.5px,#d7dc2d 171.5px,#e1de28)"></div>
<div style="left:457px;top:116px;width:173px;height:2px;background:linear-gradient(90deg,#3a52a6,#3a56a8 58.5px,#3b62b0 73.5px,#3c85c9 82.5px,#3cb4e7 92.5px,#3cbcec 97.5px,#4cbfe0 100.5px,#67c3cc 105.5px,#73c4b2 114.5px,#95c96b 152.5px,#a0cb5b 163.5px,#afce4b 167.5px,#c6d53b)"></div>
<div style="left:457px;top:118px;width:173px;height:2px;background:linear-gradient(90deg,#3a52a6,#3a56a8 62.5px,#3b63b0 76.5px,#3c85c9 85.5px,#3cb0e5 94.5px,#3dbceb 101.5px,#6cc4c8 111.5px,#78c4a1 127.5px,#94c96d 159.5px,#9fcb5e 169.5px,#a8cc50)"></div>
<div style="left:457px;top:120px;width:173px;height:2px;background:linear-gradient(90deg,#3a52a6,#3a57a9 67.5px,#3b63b0 79.5px,#3c86ca 88.5px,#3cb2e6 98.5px,#3cbcec 105.5px,#57c0d8 111.5px,#6cc4c7 116.5px,#79c49f 133.5px,#95c96b 168.5px,#98ca66)"></div>
<div style="left:457px;top:122px;width:173px;height:2px;background:linear-gradient(90deg,#3a52a6,#3a57a9 71.5px,#3b64b1 82.5px,#3c82c7 90.5px,#3cb3e6 102.5px,#3fbdea 111.5px,#6cc4c8 120.5px,#79c49e 137.5px,#93c96d)"></div>
<div style="left:457px;top:124px;width:173px;height:2px;background:linear-gradient(90deg,#3a52a6,#3a56a9 74.5px,#3b64b1 85.5px,#3c9bd8 99.5px,#3cb0e5 105.5px,#3cbcec 115.5px,#55c0d9 120.5px,#6cc4c7 125.5px,#79c49e 141.5px,#8ec875)"></div>
<div style="left:457px;top:126px;width:173px;height:2px;background:linear-gradient(90deg,#3a52a6,#3a56a8 76.5px,#3b64b1 88.5px,#3ca9e1 107.5px,#3cbbeb 118.5px,#41bde9 121.5px,#6ac4c9 129.5px,#77c4a3 143.5px,#8ac87d)"></div>
<div style="left:457px;top:128px;width:173px;height:2px;background:linear-gradient(90deg,#3a52a6,#3a56a8 79.5px,#3b65b2 91.5px,#3ca5de 110.5px,#3cbaeb 121.5px,#3ebceb 125.5px,#52c0dc 129.5px,#6cc4c8 134.5px,#76c4a6 147.5px,#86c785)"></div>
<div style="left:457px;top:130px;width:173px;height:2px;background:linear-gradient(90deg,#3a51a5,#3a56a8 81.5px,#3b62b0 93.5px,#3cace2 117.5px,#3cbbec 128.5px,#47bee4 132.5px,#6cc4c7 139.5px,#76c4a5 152.5px,#83c68a)"></div>
<div style="left:457px;top:132px;width:173px;height:2px;background:linear-gradient(90deg,#394fa4,#3a56a8 84.5px,#3b65b2 97.5px,#3cb1e5 124.5px,#3cbcec 134.5px,#50bfdd 138.5px,#6cc4c8 143.5px,#77c4a3 156.5px,#82c68c)"></div>
<div style="left:457px;top:134px;width:173px;height:2px;background:linear-gradient(90deg,#394ba2,#3a56a8 87.5px,#3b65b2 100.5px,#3cb4e7 130.5px,#3cbcec 139.5px,#52c0dc 143.5px,#6dc4c6 148.5px,#78c4a1 160.5px,#81c68e)"></div>
<div style="left:457px;top:136px;width:173px;height:2px;background:linear-gradient(90deg,#37459d,#394ca2 54.5px,#3b5aab 96.5px,#3c6db8 107.5px,#3cb3e6 134.5px,#3dbceb 144.5px,#4cbfe0 147.5px,#6cc4c8 152.5px,#77c4a2 163.5px,#7fc592)"></div>
<div style="left:457px;top:138px;width:173px;height:2px;background:linear-gradient(90deg,#343f97,#36439b 36.5px,#3b5aab 99.5px,#3b6ab6 110.5px,#3cb4e7 139.5px,#3dbceb 149.5px,#4dbfdf 152.5px,#6dc4c6 157.5px,#78c4a2 167.5px,#7dc597)"></div>
<div style="left:457px;top:140px;width:173px;height:2px;background:linear-gradient(90deg,#333c94,#354199 34.5px,#3b5bab 103.5px,#3b68b4 113.5px,#3cb3e6 143.5px,#3dbceb 154.5px,#4ebfde 157.5px,#6bc4c9 161.5px,#78c4a1 171.5px,#79c49f)"></div>
<div style="left:457px;top:142px;width:173px;height:2px;background:linear-gradient(90deg,#343f97,#36439b 36.5px,#3b5bab 106.5px,#3b69b4 117.5px,#3cb3e7 148.5px,#3ebceb 159.5px,#4fbfde 162.5px,#6cc4c7 166.5px,#75c4ab)"></div>
<div style="left:457px;top:144px;width:173px;height:2px;background:linear-gradient(90deg,#37459d,#394ca2 54.5px,#3b59aa 108.5px,#3b67b3 120.5px,#3cb2e6 152.5px,#3ebcea 164.5px,#50bfdd 167.5px,#6dc4c5 171.5px,#6fc4bf)"></div>
<div style="left:457px;top:146px;width:173px;height:2px;background:linear-gradient(90deg,#394ba2,#3a57a9 108.5px,#3b65b2 123.5px,#3c9eda 147.5px,#3cb8e9 161.5px,#3ebcea 169.5px,#48bee3 171.5px,#52c0dc)"></div>
<div style="left:457px;top:148px;width:173px;height:2px;background:linear-gradient(90deg,#394fa4,#3a57a9 110.5px,#3b65b2 127.5px,#3cb3e7 162.5px,#3cbcec)"></div>
<div style="left:457px;top:150px;width:173px;height:2px;background:linear-gradient(90deg,#3a51a5,#3a56a8 112.5px,#3b64b1 130.5px,#3c99d7 153.5px,#3cbaeb 168.5px,#3fbcea)"></div>
<div style="left:457px;top:152px;width:173px;height:2px;background:linear-gradient(90deg,#3a52a6,#3a56a8 115.5px,#3b64b1 133.5px,#3c92d2 152.5px,#3ebceb 168.5px,#45bde6)"></div>
<div style="left:457px;top:154px;width:173px;height:2px;background:linear-gradient(90deg,#3a52a6,#3a56a8 118.5px,#3b63b1 135.5px,#3c8acc 151.5px,#3cbcec 167.5px,#49bee3)"></div>
<div style="left:457px;top:156px;width:173px;height:2px;background:linear-gradient(90deg,#3a52a6,#3a56a8 122.5px,#3b65b2 138.5px,#3c88cb 152.5px,#3cbcec 167.5px,#4bbee1)"></div>
<div style="left:457px;top:158px;width:173px;height:2px;background:linear-gradient(90deg,#3a52a6,#3a56a8 124.5px,#3b66b2 140.5px,#3c86ca 153.5px,#3cb6e8 166.5px,#41bde8 169.5px,#4cbfe0)"></div>
<div style="left:457px;top:160px;width:173px;height:2px;background:linear-gradient(90deg,#3a52a6,#3a55a8 125.5px,#3b66b2 142.5px,#3c86c9 155.5px,#3caee4 166.5px,#3fbcea 170.5px,#46bee4)"></div>
<div style="left:457px;top:162px;width:173px;height:2px;background:linear-gradient(90deg,#3a52a6,#3a56a8 127.5px,#3b65b1 144.5px,#3c86c9 158.5px,#3caee3 169.5px,#3cbaeb)"></div>
<div style="left:457px;top:164px;width:173px;height:2px;background:linear-gradient(90deg,#3a52a6,#3a55a8 128.5px,#3b66b2 147.5px,#3c86ca 161.5px,#3caee3)"></div>
<div style="left:457px;top:166px;width:173px;height:2px;background:linear-gradient(90deg,#3a52a6,#3a55a8 129.5px,#3b65b2 149.5px,#3c84c8 163.5px,#3ca1dc)"></div>
<div style="left:457px;top:168px;width:173px;height:2px;background:linear-gradient(90deg,#3a52a6,#3a55a8 130.5px,#3b64b1 151.5px,#3c84c8 166.5px,#3c96d5)"></div>
<div style="left:457px;top:170px;width:173px;height:2px;background:linear-gradient(90deg,#3a52a6,#3a55a8 130.5px,#3b64b1 153.5px,#3c82c7 168.5px,#3c8dcf)"></div>
<div style="left:457px;top:172px;width:173px;height:2px;background:linear-gradient(90deg,#3a52a6,#3a55a8 131.5px,#3b65b2 156.5px,#3c83c7 171.5px,#3c86c9)"></div>
<div style="left:457px;top:174px;width:173px;height:2px;background:linear-gradient(90deg,#3a52a6,#3a55a8 131.5px,#3b65b2 158.5px,#3c7fc5)"></div>
<div style="left:457px;top:176px;width:173px;height:2px;background:linear-gradient(90deg,#3a52a6,#3a55a8 132.5px,#3b65b2 160.5px,#3c78c0)"></div>
<div style="left:457px;top:178px;width:173px;height:2px;background:linear-gradient(90deg,#3a52a6,#3a55a8 132.5px,#3b64b1 161.5px,#3c74bd)"></div>
<div style="left:631px;top:32px;width:11px;height:148px;background:linear-gradient(180deg,#2a2c80 0.0%,#2b2e84 2.0%,#2c3088 4.1%,#2f358d 6.1%,#323a92 8.2%,#354098 10.2%,#37469e 12.2%,#394ba2 14.3%,#3a50a5 16.3%,#3a56a8 18.4%,#3b5cac 20.4%,#3b64b1 22.4%,#3c70ba 24.5%,#3c7dc4 26.5%,#3c8dcf 28.6%,#3c9fda 30.6%,#3cb5e8 32.7%,#4abee2 34.7%,#5ec2d2 36.7%,#6ec4c2 38.8%,#73c4b1 40.8%,#78c4a0 42.9%,#80c691 44.9%,#87c782 46.9%,#8fc874 49.0%,#98ca66 51.0%,#a2cb59 53.1%,#adcd4d 55.1%,#bbd143 57.1%,#c7d539 59.2%,#d1d931 61.2%,#e3df27 63.3%,#f8e01c 65.3%,#f8d41e 67.3%,#f8c820 69.4%,#f7ba21 71.4%,#f6aa22 73.5%,#f49a24 75.5%,#f18726 77.6%,#ef7427 79.6%,#ec6329 81.6%,#ea5329 83.7%,#e7422a 85.7%,#e33129 87.8%,#e02028 89.8%,#d11e26 91.8%,#c21d25 93.9%,#b21c23 95.9%,#9f1b21 98.0%,#8c1a1e 100.0%)"></div>
</div>
<svg width="685" height="411" viewBox="0 0 685 411" fill="#231f20">
<text x="70" y="11" font-size="16.5" font-weight="bold">a.</text>
<text x="266.3" y="10.8" font-size="16.5" font-weight="bold">b.</text>
<text x="461" y="11" font-size="16.5" font-weight="bold">c.</text>
<text x="81.6" y="23.3" font-size="12.2" font-style="italic">more reducing</text>
<text x="547" y="23.4" font-size="12.2" font-style="italic">more oxidizing</text>
<rect x="185" y="19.3" width="342" height="3.3" fill="#231f20"/>
<path d="M175.5 20.9 L188 14 L185.6 20.9 L188 27.8 Z" fill="#231f20"/>
<path d="M536.8 20.8 L524.2 13.8 L526.4 20.8 L524.2 28 Z" fill="#231f20"/>
<text transform="translate(37,98.5) rotate(-90)" font-size="14.6" font-weight="bold" text-anchor="middle">water/rock ratio (kg/kg)</text>
<text transform="translate(11.6,277) rotate(-90)" font-size="14" font-weight="bold" text-anchor="middle">Cumulative <tspan fill="#2aa84a">P</tspan>, <tspan fill="#3a9ad4">Ca</tspan></text>
<text transform="translate(27.5,275) rotate(-90)" font-size="13.6" font-weight="bold" text-anchor="middle">Minerals (mol/kg)</text>
<text transform="translate(682.6,98.1) rotate(-90)" font-size="12" font-weight="bold" text-anchor="middle">[P] (mol/kg water)</text>
<text x="364.3" y="407.9" font-size="15" font-weight="bold" text-anchor="middle">Temperature (ºC)</text>
<line x1="68.89999999999999" y1="46.78" x2="70.3" y2="46.78" stroke="#231f20" stroke-width="0.6"/>
<line x1="261.90000000000003" y1="46.78" x2="263.3" y2="46.78" stroke="#231f20" stroke-width="0.6"/>
<line x1="455.20000000000005" y1="46.78" x2="456.6" y2="46.78" stroke="#231f20" stroke-width="0.6"/>
<line x1="68.89999999999999" y1="43.05" x2="70.3" y2="43.05" stroke="#231f20" stroke-width="0.6"/>
<line x1="261.90000000000003" y1="43.05" x2="263.3" y2="43.05" stroke="#231f20" stroke-width="0.6"/>
<line x1="455.20000000000005" y1="43.05" x2="456.6" y2="43.05" stroke="#231f20" stroke-width="0.6"/>
<line x1="68.89999999999999" y1="40.41" x2="70.3" y2="40.41" stroke="#231f20" stroke-width="0.6"/>
<line x1="261.90000000000003" y1="40.41" x2="263.3" y2="40.41" stroke="#231f20" stroke-width="0.6"/>
<line x1="455.20000000000005" y1="40.41" x2="456.6" y2="40.41" stroke="#231f20" stroke-width="0.6"/>
<line x1="68.89999999999999" y1="38.36" x2="70.3" y2="38.36" stroke="#231f20" stroke-width="0.6"/>
<line x1="261.90000000000003" y1="38.36" x2="263.3" y2="38.36" stroke="#231f20" stroke-width="0.6"/>
<line x1="455.20000000000005" y1="38.36" x2="456.6" y2="38.36" stroke="#231f20" stroke-width="0.6"/>
<line x1="68.89999999999999" y1="36.69" x2="70.3" y2="36.69" stroke="#231f20" stroke-width="0.6"/>
<line x1="261.90000000000003" y1="36.69" x2="263.3" y2="36.69" stroke="#231f20" stroke-width="0.6"/>
<line x1="455.20000000000005" y1="36.69" x2="456.6" y2="36.69" stroke="#231f20" stroke-width="0.6"/>
<line x1="68.89999999999999" y1="35.27" x2="70.3" y2="35.27" stroke="#231f20" stroke-width="0.6"/>
<line x1="261.90000000000003" y1="35.27" x2="263.3" y2="35.27" stroke="#231f20" stroke-width="0.6"/>
<line x1="455.20000000000005" y1="35.27" x2="456.6" y2="35.27" stroke="#231f20" stroke-width="0.6"/>
<line x1="68.89999999999999" y1="34.05" x2="70.3" y2="34.05" stroke="#231f20" stroke-width="0.6"/>
<line x1="261.90000000000003" y1="34.05" x2="263.3" y2="34.05" stroke="#231f20" stroke-width="0.6"/>
<line x1="455.20000000000005" y1="34.05" x2="456.6" y2="34.05" stroke="#231f20" stroke-width="0.6"/>
<line x1="68.89999999999999" y1="32.97" x2="70.3" y2="32.97" stroke="#231f20" stroke-width="0.6"/>
<line x1="261.90000000000003" y1="32.97" x2="263.3" y2="32.97" stroke="#231f20" stroke-width="0.6"/>
<line x1="455.20000000000005" y1="32.97" x2="456.6" y2="32.97" stroke="#231f20" stroke-width="0.6"/>
<line x1="67.7" y1="53.14" x2="70.3" y2="53.14" stroke="#231f20" stroke-width="1.0"/>
<line x1="260.7" y1="53.14" x2="263.3" y2="53.14" stroke="#231f20" stroke-width="1.0"/>
<line x1="454.0" y1="53.14" x2="456.6" y2="53.14" stroke="#231f20" stroke-width="1.0"/>
<line x1="68.89999999999999" y1="67.92" x2="70.3" y2="67.92" stroke="#231f20" stroke-width="0.6"/>
<line x1="261.90000000000003" y1="67.92" x2="263.3" y2="67.92" stroke="#231f20" stroke-width="0.6"/>
<line x1="455.20000000000005" y1="67.92" x2="456.6" y2="67.92" stroke="#231f20" stroke-width="0.6"/>
<line x1="68.89999999999999" y1="64.19" x2="70.3" y2="64.19" stroke="#231f20" stroke-width="0.6"/>
<line x1="261.90000000000003" y1="64.19" x2="263.3" y2="64.19" stroke="#231f20" stroke-width="0.6"/>
<line x1="455.20000000000005" y1="64.19" x2="456.6" y2="64.19" stroke="#231f20" stroke-width="0.6"/>
<line x1="68.89999999999999" y1="61.55" x2="70.3" y2="61.55" stroke="#231f20" stroke-width="0.6"/>
<line x1="261.90000000000003" y1="61.55" x2="263.3" y2="61.55" stroke="#231f20" stroke-width="0.6"/>
<line x1="455.20000000000005" y1="61.55" x2="456.6" y2="61.55" stroke="#231f20" stroke-width="0.6"/>
<line x1="68.89999999999999" y1="59.5" x2="70.3" y2="59.5" stroke="#231f20" stroke-width="0.6"/>
<line x1="261.90000000000003" y1="59.5" x2="263.3" y2="59.5" stroke="#231f20" stroke-width="0.6"/>
<line x1="455.20000000000005" y1="59.5" x2="456.6" y2="59.5" stroke="#231f20" stroke-width="0.6"/>
<line x1="68.89999999999999" y1="57.83" x2="70.3" y2="57.83" stroke="#231f20" stroke-width="0.6"/>
<line x1="261.90000000000003" y1="57.83" x2="263.3" y2="57.83" stroke="#231f20" stroke-width="0.6"/>
<line x1="455.20000000000005" y1="57.83" x2="456.6" y2="57.83" stroke="#231f20" stroke-width="0.6"/>
<line x1="68.89999999999999" y1="56.41" x2="70.3" y2="56.41" stroke="#231f20" stroke-width="0.6"/>
<line x1="261.90000000000003" y1="56.41" x2="263.3" y2="56.41" stroke="#231f20" stroke-width="0.6"/>
<line x1="455.20000000000005" y1="56.41" x2="456.6" y2="56.41" stroke="#231f20" stroke-width="0.6"/>
<line x1="68.89999999999999" y1="55.19" x2="70.3" y2="55.19" stroke="#231f20" stroke-width="0.6"/>
<line x1="261.90000000000003" y1="55.19" x2="263.3" y2="55.19" stroke="#231f20" stroke-width="0.6"/>
<line x1="455.20000000000005" y1="55.19" x2="456.6" y2="55.19" stroke="#231f20" stroke-width="0.6"/>
<line x1="68.89999999999999" y1="54.11" x2="70.3" y2="54.11" stroke="#231f20" stroke-width="0.6"/>
<line x1="261.90000000000003" y1="54.11" x2="263.3" y2="54.11" stroke="#231f20" stroke-width="0.6"/>
<line x1="455.20000000000005" y1="54.11" x2="456.6" y2="54.11" stroke="#231f20" stroke-width="0.6"/>
<line x1="67.7" y1="74.28" x2="70.3" y2="74.28" stroke="#231f20" stroke-width="1.0"/>
<line x1="260.7" y1="74.28" x2="263.3" y2="74.28" stroke="#231f20" stroke-width="1.0"/>
<line x1="454.0" y1="74.28" x2="456.6" y2="74.28" stroke="#231f20" stroke-width="1.0"/>
<line x1="68.89999999999999" y1="89.06" x2="70.3" y2="89.06" stroke="#231f20" stroke-width="0.6"/>
<line x1="261.90000000000003" y1="89.06" x2="263.3" y2="89.06" stroke="#231f20" stroke-width="0.6"/>
<line x1="455.20000000000005" y1="89.06" x2="456.6" y2="89.06" stroke="#231f20" stroke-width="0.6"/>
<line x1="68.89999999999999" y1="85.33" x2="70.3" y2="85.33" stroke="#231f20" stroke-width="0.6"/>
<line x1="261.90000000000003" y1="85.33" x2="263.3" y2="85.33" stroke="#231f20" stroke-width="0.6"/>
<line x1="455.20000000000005" y1="85.33" x2="456.6" y2="85.33" stroke="#231f20" stroke-width="0.6"/>
<line x1="68.89999999999999" y1="82.69" x2="70.3" y2="82.69" stroke="#231f20" stroke-width="0.6"/>
<line x1="261.90000000000003" y1="82.69" x2="263.3" y2="82.69" stroke="#231f20" stroke-width="0.6"/>
<line x1="455.20000000000005" y1="82.69" x2="456.6" y2="82.69" stroke="#231f20" stroke-width="0.6"/>
<line x1="68.89999999999999" y1="80.64" x2="70.3" y2="80.64" stroke="#231f20" stroke-width="0.6"/>
<line x1="261.90000000000003" y1="80.64" x2="263.3" y2="80.64" stroke="#231f20" stroke-width="0.6"/>
<line x1="455.20000000000005" y1="80.64" x2="456.6" y2="80.64" stroke="#231f20" stroke-width="0.6"/>
<line x1="68.89999999999999" y1="78.97" x2="70.3" y2="78.97" stroke="#231f20" stroke-width="0.6"/>
<line x1="261.90000000000003" y1="78.97" x2="263.3" y2="78.97" stroke="#231f20" stroke-width="0.6"/>
<line x1="455.20000000000005" y1="78.97" x2="456.6" y2="78.97" stroke="#231f20" stroke-width="0.6"/>
<line x1="68.89999999999999" y1="77.55" x2="70.3" y2="77.55" stroke="#231f20" stroke-width="0.6"/>
<line x1="261.90000000000003" y1="77.55" x2="263.3" y2="77.55" stroke="#231f20" stroke-width="0.6"/>
<line x1="455.20000000000005" y1="77.55" x2="456.6" y2="77.55" stroke="#231f20" stroke-width="0.6"/>
<line x1="68.89999999999999" y1="76.33" x2="70.3" y2="76.33" stroke="#231f20" stroke-width="0.6"/>
<line x1="261.90000000000003" y1="76.33" x2="263.3" y2="76.33" stroke="#231f20" stroke-width="0.6"/>
<line x1="455.20000000000005" y1="76.33" x2="456.6" y2="76.33" stroke="#231f20" stroke-width="0.6"/>
<line x1="68.89999999999999" y1="75.25" x2="70.3" y2="75.25" stroke="#231f20" stroke-width="0.6"/>
<line x1="261.90000000000003" y1="75.25" x2="263.3" y2="75.25" stroke="#231f20" stroke-width="0.6"/>
<line x1="455.20000000000005" y1="75.25" x2="456.6" y2="75.25" stroke="#231f20" stroke-width="0.6"/>
<line x1="67.7" y1="95.42" x2="70.3" y2="95.42" stroke="#231f20" stroke-width="1.0"/>
<line x1="260.7" y1="95.42" x2="263.3" y2="95.42" stroke="#231f20" stroke-width="1.0"/>
<line x1="454.0" y1="95.42" x2="456.6" y2="95.42" stroke="#231f20" stroke-width="1.0"/>
<line x1="68.89999999999999" y1="110.2" x2="70.3" y2="110.2" stroke="#231f20" stroke-width="0.6"/>
<line x1="261.90000000000003" y1="110.2" x2="263.3" y2="110.2" stroke="#231f20" stroke-width="0.6"/>
<line x1="455.20000000000005" y1="110.2" x2="456.6" y2="110.2" stroke="#231f20" stroke-width="0.6"/>
<line x1="68.89999999999999" y1="106.47" x2="70.3" y2="106.47" stroke="#231f20" stroke-width="0.6"/>
<line x1="261.90000000000003" y1="106.47" x2="263.3" y2="106.47" stroke="#231f20" stroke-width="0.6"/>
<line x1="455.20000000000005" y1="106.47" x2="456.6" y2="106.47" stroke="#231f20" stroke-width="0.6"/>
<line x1="68.89999999999999" y1="103.83" x2="70.3" y2="103.83" stroke="#231f20" stroke-width="0.6"/>
<line x1="261.90000000000003" y1="103.83" x2="263.3" y2="103.83" stroke="#231f20" stroke-width="0.6"/>
<line x1="455.20000000000005" y1="103.83" x2="456.6" y2="103.83" stroke="#231f20" stroke-width="0.6"/>
<line x1="68.89999999999999" y1="101.78" x2="70.3" y2="101.78" stroke="#231f20" stroke-width="0.6"/>
<line x1="261.90000000000003" y1="101.78" x2="263.3" y2="101.78" stroke="#231f20" stroke-width="0.6"/>
<line x1="455.20000000000005" y1="101.78" x2="456.6" y2="101.78" stroke="#231f20" stroke-width="0.6"/>
<line x1="68.89999999999999" y1="100.11" x2="70.3" y2="100.11" stroke="#231f20" stroke-width="0.6"/>
<line x1="261.90000000000003" y1="100.11" x2="263.3" y2="100.11" stroke="#231f20" stroke-width="0.6"/>
<line x1="455.20000000000005" y1="100.11" x2="456.6" y2="100.11" stroke="#231f20" stroke-width="0.6"/>
<line x1="68.89999999999999" y1="98.69" x2="70.3" y2="98.69" stroke="#231f20" stroke-width="0.6"/>
<line x1="261.90000000000003" y1="98.69" x2="263.3" y2="98.69" stroke="#231f20" stroke-width="0.6"/>
<line x1="455.20000000000005" y1="98.69" x2="456.6" y2="98.69" stroke="#231f20" stroke-width="0.6"/>
<line x1="68.89999999999999" y1="97.47" x2="70.3" y2="97.47" stroke="#231f20" stroke-width="0.6"/>
<line x1="261.90000000000003" y1="97.47" x2="263.3" y2="97.47" stroke="#231f20" stroke-width="0.6"/>
<line x1="455.20000000000005" y1="97.47" x2="456.6" y2="97.47" stroke="#231f20" stroke-width="0.6"/>
<line x1="68.89999999999999" y1="96.39" x2="70.3" y2="96.39" stroke="#231f20" stroke-width="0.6"/>
<line x1="261.90000000000003" y1="96.39" x2="263.3" y2="96.39" stroke="#231f20" stroke-width="0.6"/>
<line x1="455.20000000000005" y1="96.39" x2="456.6" y2="96.39" stroke="#231f20" stroke-width="0.6"/>
<line x1="67.7" y1="116.56" x2="70.3" y2="116.56" stroke="#231f20" stroke-width="1.0"/>
<line x1="260.7" y1="116.56" x2="263.3" y2="116.56" stroke="#231f20" stroke-width="1.0"/>
<line x1="454.0" y1="116.56" x2="456.6" y2="116.56" stroke="#231f20" stroke-width="1.0"/>
<line x1="68.89999999999999" y1="131.34" x2="70.3" y2="131.34" stroke="#231f20" stroke-width="0.6"/>
<line x1="261.90000000000003" y1="131.34" x2="263.3" y2="131.34" stroke="#231f20" stroke-width="0.6"/>
<line x1="455.20000000000005" y1="131.34" x2="456.6" y2="131.34" stroke="#231f20" stroke-width="0.6"/>
<line x1="68.89999999999999" y1="127.61" x2="70.3" y2="127.61" stroke="#231f20" stroke-width="0.6"/>
<line x1="261.90000000000003" y1="127.61" x2="263.3" y2="127.61" stroke="#231f20" stroke-width="0.6"/>
<line x1="455.20000000000005" y1="127.61" x2="456.6" y2="127.61" stroke="#231f20" stroke-width="0.6"/>
<line x1="68.89999999999999" y1="124.97" x2="70.3" y2="124.97" stroke="#231f20" stroke-width="0.6"/>
<line x1="261.90000000000003" y1="124.97" x2="263.3" y2="124.97" stroke="#231f20" stroke-width="0.6"/>
<line x1="455.20000000000005" y1="124.97" x2="456.6" y2="124.97" stroke="#231f20" stroke-width="0.6"/>
<line x1="68.89999999999999" y1="122.92" x2="70.3" y2="122.92" stroke="#231f20" stroke-width="0.6"/>
<line x1="261.90000000000003" y1="122.92" x2="263.3" y2="122.92" stroke="#231f20" stroke-width="0.6"/>
<line x1="455.20000000000005" y1="122.92" x2="456.6" y2="122.92" stroke="#231f20" stroke-width="0.6"/>
<line x1="68.89999999999999" y1="121.25" x2="70.3" y2="121.25" stroke="#231f20" stroke-width="0.6"/>
<line x1="261.90000000000003" y1="121.25" x2="263.3" y2="121.25" stroke="#231f20" stroke-width="0.6"/>
<line x1="455.20000000000005" y1="121.25" x2="456.6" y2="121.25" stroke="#231f20" stroke-width="0.6"/>
<line x1="68.89999999999999" y1="119.83" x2="70.3" y2="119.83" stroke="#231f20" stroke-width="0.6"/>
<line x1="261.90000000000003" y1="119.83" x2="263.3" y2="119.83" stroke="#231f20" stroke-width="0.6"/>
<line x1="455.20000000000005" y1="119.83" x2="456.6" y2="119.83" stroke="#231f20" stroke-width="0.6"/>
<line x1="68.89999999999999" y1="118.61" x2="70.3" y2="118.61" stroke="#231f20" stroke-width="0.6"/>
<line x1="261.90000000000003" y1="118.61" x2="263.3" y2="118.61" stroke="#231f20" stroke-width="0.6"/>
<line x1="455.20000000000005" y1="118.61" x2="456.6" y2="118.61" stroke="#231f20" stroke-width="0.6"/>
<line x1="68.89999999999999" y1="117.53" x2="70.3" y2="117.53" stroke="#231f20" stroke-width="0.6"/>
<line x1="261.90000000000003" y1="117.53" x2="263.3" y2="117.53" stroke="#231f20" stroke-width="0.6"/>
<line x1="455.20000000000005" y1="117.53" x2="456.6" y2="117.53" stroke="#231f20" stroke-width="0.6"/>
<line x1="67.7" y1="137.7" x2="70.3" y2="137.7" stroke="#231f20" stroke-width="1.0"/>
<line x1="260.7" y1="137.7" x2="263.3" y2="137.7" stroke="#231f20" stroke-width="1.0"/>
<line x1="454.0" y1="137.7" x2="456.6" y2="137.7" stroke="#231f20" stroke-width="1.0"/>
<line x1="68.89999999999999" y1="152.48" x2="70.3" y2="152.48" stroke="#231f20" stroke-width="0.6"/>
<line x1="261.90000000000003" y1="152.48" x2="263.3" y2="152.48" stroke="#231f20" stroke-width="0.6"/>
<line x1="455.20000000000005" y1="152.48" x2="456.6" y2="152.48" stroke="#231f20" stroke-width="0.6"/>
<line x1="68.89999999999999" y1="148.75" x2="70.3" y2="148.75" stroke="#231f20" stroke-width="0.6"/>
<line x1="261.90000000000003" y1="148.75" x2="263.3" y2="148.75" stroke="#231f20" stroke-width="0.6"/>
<line x1="455.20000000000005" y1="148.75" x2="456.6" y2="148.75" stroke="#231f20" stroke-width="0.6"/>
<line x1="68.89999999999999" y1="146.11" x2="70.3" y2="146.11" stroke="#231f20" stroke-width="0.6"/>
<line x1="261.90000000000003" y1="146.11" x2="263.3" y2="146.11" stroke="#231f20" stroke-width="0.6"/>
<line x1="455.20000000000005" y1="146.11" x2="456.6" y2="146.11" stroke="#231f20" stroke-width="0.6"/>
<line x1="68.89999999999999" y1="144.06" x2="70.3" y2="144.06" stroke="#231f20" stroke-width="0.6"/>
<line x1="261.90000000000003" y1="144.06" x2="263.3" y2="144.06" stroke="#231f20" stroke-width="0.6"/>
<line x1="455.20000000000005" y1="144.06" x2="456.6" y2="144.06" stroke="#231f20" stroke-width="0.6"/>
<line x1="68.89999999999999" y1="142.39" x2="70.3" y2="142.39" stroke="#231f20" stroke-width="0.6"/>
<line x1="261.90000000000003" y1="142.39" x2="263.3" y2="142.39" stroke="#231f20" stroke-width="0.6"/>
<line x1="455.20000000000005" y1="142.39" x2="456.6" y2="142.39" stroke="#231f20" stroke-width="0.6"/>
<line x1="68.89999999999999" y1="140.97" x2="70.3" y2="140.97" stroke="#231f20" stroke-width="0.6"/>
<line x1="261.90000000000003" y1="140.97" x2="263.3" y2="140.97" stroke="#231f20" stroke-width="0.6"/>
<line x1="455.20000000000005" y1="140.97" x2="456.6" y2="140.97" stroke="#231f20" stroke-width="0.6"/>
<line x1="68.89999999999999" y1="139.75" x2="70.3" y2="139.75" stroke="#231f20" stroke-width="0.6"/>
<line x1="261.90000000000003" y1="139.75" x2="263.3" y2="139.75" stroke="#231f20" stroke-width="0.6"/>
<line x1="455.20000000000005" y1="139.75" x2="456.6" y2="139.75" stroke="#231f20" stroke-width="0.6"/>
<line x1="68.89999999999999" y1="138.67" x2="70.3" y2="138.67" stroke="#231f20" stroke-width="0.6"/>
<line x1="261.90000000000003" y1="138.67" x2="263.3" y2="138.67" stroke="#231f20" stroke-width="0.6"/>
<line x1="455.20000000000005" y1="138.67" x2="456.6" y2="138.67" stroke="#231f20" stroke-width="0.6"/>
<line x1="67.7" y1="158.84" x2="70.3" y2="158.84" stroke="#231f20" stroke-width="1.0"/>
<line x1="260.7" y1="158.84" x2="263.3" y2="158.84" stroke="#231f20" stroke-width="1.0"/>
<line x1="454.0" y1="158.84" x2="456.6" y2="158.84" stroke="#231f20" stroke-width="1.0"/>
<line x1="68.89999999999999" y1="173.62" x2="70.3" y2="173.62" stroke="#231f20" stroke-width="0.6"/>
<line x1="261.90000000000003" y1="173.62" x2="263.3" y2="173.62" stroke="#231f20" stroke-width="0.6"/>
<line x1="455.20000000000005" y1="173.62" x2="456.6" y2="173.62" stroke="#231f20" stroke-width="0.6"/>
<line x1="68.89999999999999" y1="169.89" x2="70.3" y2="169.89" stroke="#231f20" stroke-width="0.6"/>
<line x1="261.90000000000003" y1="169.89" x2="263.3" y2="169.89" stroke="#231f20" stroke-width="0.6"/>
<line x1="455.20000000000005" y1="169.89" x2="456.6" y2="169.89" stroke="#231f20" stroke-width="0.6"/>
<line x1="68.89999999999999" y1="167.25" x2="70.3" y2="167.25" stroke="#231f20" stroke-width="0.6"/>
<line x1="261.90000000000003" y1="167.25" x2="263.3" y2="167.25" stroke="#231f20" stroke-width="0.6"/>
<line x1="455.20000000000005" y1="167.25" x2="456.6" y2="167.25" stroke="#231f20" stroke-width="0.6"/>
<line x1="68.89999999999999" y1="165.2" x2="70.3" y2="165.2" stroke="#231f20" stroke-width="0.6"/>
<line x1="261.90000000000003" y1="165.2" x2="263.3" y2="165.2" stroke="#231f20" stroke-width="0.6"/>
<line x1="455.20000000000005" y1="165.2" x2="456.6" y2="165.2" stroke="#231f20" stroke-width="0.6"/>
<line x1="68.89999999999999" y1="163.53" x2="70.3" y2="163.53" stroke="#231f20" stroke-width="0.6"/>
<line x1="261.90000000000003" y1="163.53" x2="263.3" y2="163.53" stroke="#231f20" stroke-width="0.6"/>
<line x1="455.20000000000005" y1="163.53" x2="456.6" y2="163.53" stroke="#231f20" stroke-width="0.6"/>
<line x1="68.89999999999999" y1="162.11" x2="70.3" y2="162.11" stroke="#231f20" stroke-width="0.6"/>
<line x1="261.90000000000003" y1="162.11" x2="263.3" y2="162.11" stroke="#231f20" stroke-width="0.6"/>
<line x1="455.20000000000005" y1="162.11" x2="456.6" y2="162.11" stroke="#231f20" stroke-width="0.6"/>
<line x1="68.89999999999999" y1="160.89" x2="70.3" y2="160.89" stroke="#231f20" stroke-width="0.6"/>
<line x1="261.90000000000003" y1="160.89" x2="263.3" y2="160.89" stroke="#231f20" stroke-width="0.6"/>
<line x1="455.20000000000005" y1="160.89" x2="456.6" y2="160.89" stroke="#231f20" stroke-width="0.6"/>
<line x1="68.89999999999999" y1="159.81" x2="70.3" y2="159.81" stroke="#231f20" stroke-width="0.6"/>
<line x1="261.90000000000003" y1="159.81" x2="263.3" y2="159.81" stroke="#231f20" stroke-width="0.6"/>
<line x1="455.20000000000005" y1="159.81" x2="456.6" y2="159.81" stroke="#231f20" stroke-width="0.6"/>
<text x="62.4" y="34.1" font-size="14.3" text-anchor="end">10</text>
<text x="62.6" y="29.1" font-size="9.6">6</text>
<text x="62.4" y="78.1" font-size="14.3" text-anchor="end">10</text>
<text x="62.6" y="73.1" font-size="9.6">4</text>
<text x="62.4" y="121.9" font-size="14.3" text-anchor="end">10</text>
<text x="62.6" y="116.9" font-size="9.6">2</text>
<text x="62.4" y="164.8" font-size="14.3" text-anchor="end">10</text>
<text x="62.6" y="159.8" font-size="9.6">0</text>
<line x1="70.3" y1="179.5" x2="70.3" y2="182.3" stroke="#231f20" stroke-width="1.0"/>
<line x1="100.95" y1="179.5" x2="100.95" y2="182.3" stroke="#231f20" stroke-width="1.0"/>
<line x1="131.6" y1="179.5" x2="131.6" y2="182.3" stroke="#231f20" stroke-width="1.0"/>
<line x1="162.25" y1="179.5" x2="162.25" y2="182.3" stroke="#231f20" stroke-width="1.0"/>
<line x1="192.9" y1="179.5" x2="192.9" y2="182.3" stroke="#231f20" stroke-width="1.0"/>
<line x1="223.55" y1="179.5" x2="223.55" y2="182.3" stroke="#231f20" stroke-width="1.0"/>
<line x1="254.2" y1="179.5" x2="254.2" y2="182.3" stroke="#231f20" stroke-width="1.0"/>
<line x1="263.6" y1="179.5" x2="263.6" y2="182.3" stroke="#231f20" stroke-width="1.0"/>
<line x1="294.1" y1="179.5" x2="294.1" y2="182.3" stroke="#231f20" stroke-width="1.0"/>
<line x1="324.6" y1="179.5" x2="324.6" y2="182.3" stroke="#231f20" stroke-width="1.0"/>
<line x1="355.1" y1="179.5" x2="355.1" y2="182.3" stroke="#231f20" stroke-width="1.0"/>
<line x1="385.6" y1="179.5" x2="385.6" y2="182.3" stroke="#231f20" stroke-width="1.0"/>
<line x1="416.1" y1="179.5" x2="416.1" y2="182.3" stroke="#231f20" stroke-width="1.0"/>
<line x1="446.6" y1="179.5" x2="446.6" y2="182.3" stroke="#231f20" stroke-width="1.0"/>
<line x1="456.6" y1="179.5" x2="456.6" y2="182.3" stroke="#231f20" stroke-width="1.0"/>
<line x1="487.3" y1="179.5" x2="487.3" y2="182.3" stroke="#231f20" stroke-width="1.0"/>
<line x1="518.0" y1="179.5" x2="518.0" y2="182.3" stroke="#231f20" stroke-width="1.0"/>
<line x1="548.7" y1="179.5" x2="548.7" y2="182.3" stroke="#231f20" stroke-width="1.0"/>
<line x1="579.4" y1="179.5" x2="579.4" y2="182.3" stroke="#231f20" stroke-width="1.0"/>
<line x1="610.1" y1="179.5" x2="610.1" y2="182.3" stroke="#231f20" stroke-width="1.0"/>
<line x1="641.8" y1="32.2" x2="646.4" y2="32.2" stroke="#231f20" stroke-width="1.3"/>
<text x="660.6" y="35.2" font-size="12.3" text-anchor="end">10</text>
<text x="661.1" y="30.7" font-size="7.4">-2</text>
<line x1="641.8" y1="58.92" x2="646.4" y2="58.92" stroke="#231f20" stroke-width="1.3"/>
<text x="660.6" y="61.92" font-size="12.3" text-anchor="end">10</text>
<text x="661.1" y="57.42" font-size="7.4">-4</text>
<line x1="641.8" y1="85.64" x2="646.4" y2="85.64" stroke="#231f20" stroke-width="1.3"/>
<text x="660.6" y="88.64" font-size="12.3" text-anchor="end">10</text>
<text x="661.1" y="84.14" font-size="7.4">-6</text>
<line x1="641.8" y1="112.36" x2="646.4" y2="112.36" stroke="#231f20" stroke-width="1.3"/>
<text x="660.6" y="115.36" font-size="12.3" text-anchor="end">10</text>
<text x="661.1" y="110.86" font-size="7.4">-8</text>
<line x1="641.8" y1="139.08" x2="646.4" y2="139.08" stroke="#231f20" stroke-width="1.3"/>
<text x="660.6" y="142.08" font-size="12.3" text-anchor="end">10</text>
<text x="661.1" y="137.58" font-size="7.4">-10</text>
<line x1="641.8" y1="165.8" x2="646.4" y2="165.8" stroke="#231f20" stroke-width="1.3"/>
<text x="660.6" y="168.8" font-size="12.3" text-anchor="end">10</text>
<text x="661.1" y="164.3" font-size="7.4">-12</text>
<line x1="641.8" y1="179.5" x2="646.4" y2="179.5" stroke="#231f20" stroke-width="1.3"/>
<rect x="70.8" y="115.4" width="182.2" height="2.0" fill="#ffffff"/>
<rect x="70.8" y="157.5" width="182.2" height="2.0" fill="#ffffff"/>
<rect x="264" y="117.0" width="182.3" height="2.0" fill="#ffffff"/>
<rect x="264" y="159.0" width="182.3" height="2.0" fill="#ffffff"/>
<rect x="457.2" y="116.9" width="172.59999999999997" height="2.0" fill="#ffffff"/>
<rect x="457.2" y="158.9" width="172.59999999999997" height="2.0" fill="#ffffff"/>
<text x="152.4" y="48.6" font-size="16.3" font-weight="bold">C</text>
<text x="164.2" y="44" font-size="9.4" font-weight="bold">0</text>
<text x="349.4" y="48.6" font-size="16.3" font-weight="bold">C</text>
<text x="359.6" y="44" font-size="9.4" font-weight="bold">+2</text>
<text x="545.6" y="48.6" font-size="16.3" font-weight="bold">C</text>
<text x="557.2" y="44" font-size="9.4" font-weight="bold">+4</text>
<text x="391.2" y="44" font-size="12" font-style="italic">(Fig. 2, 4)</text>
<text x="78.5" y="110.5" font-size="11.8" stroke="#231f20" stroke-width="0.35">(d)</text>
<text x="74" y="152.3" font-size="11.8" stroke="#231f20" stroke-width="0.35">(g)</text>
<text x="265.3" y="110" font-size="11.8" stroke="#231f20" stroke-width="0.35">(e)</text>
<text x="265.3" y="153.7" font-size="11.8" fill="#ffffff" stroke="#ffffff" stroke-width="0.25">(h)</text>
<text x="463.3" y="109.5" font-size="11.8" fill="#ffffff" stroke="#ffffff" stroke-width="0.25">(f)</text>
<text x="463.3" y="154" font-size="11.8" fill="#ffffff" stroke="#ffffff" stroke-width="0.25">(i)</text>
<rect x="70.3" y="32.0" width="183.0" height="147.5" fill="none" stroke="#231f20" stroke-width="1.3"/>
<rect x="263.6" y="32.0" width="183.0" height="147.5" fill="none" stroke="#231f20" stroke-width="1.3"/>
<rect x="456.6" y="32.0" width="173.69999999999993" height="147.5" fill="none" stroke="#231f20" stroke-width="1.3"/>
<rect x="630.3" y="32.0" width="11.5" height="147.5" fill="none" stroke="#231f20" stroke-width="1.3"/>
<rect x="70.5" y="262" width="182" height="16" fill="#9dd28a"/>
<rect x="166" y="208.9" width="66" height="52" fill="#acd8e6"/>
<path d="M145 185.9 L163.6 185.9 Q166 192 167.3 200 L167.8 209 L166 209 Z" fill="#acd8e6"/>
<path d="M234.4 186.2 L241.6 186.2 L241.6 188 L236 209 L229.9 209 Q230.6 195 234.4 186.2 Z" fill="#acd8e6"/>
<path d="M70.5 193.2 L115.4 193.2 L115.4 187.7 L145.1 187.7 L145.1 186.5 L162.8 186.5 Q165.6 196 166.4 205 L166.8 215 L166.8 260 L70.5 260 Z" fill="#2a2c80"/>
<path d="M235.3 186.9 L241.6 186.9 L241.6 188.1 L252 188.1 L252 260 L230.8 260 L230.8 215 Q231 200 235.3 186.9 Z" fill="#2a2c80"/>
<path d="M70.5 259.9 L252 259.9 L252 263.1 Q240 264.2 215 265.4 L200 265.8 L70.5 265.8 Z" fill="#0d7d3d"/>
<text x="72.5" y="206.3" font-size="15" font-weight="bold" fill="#ffffff">d.</text>
<text x="81.3" y="243.1" font-size="12.2" font-style="italic" fill="#ffffff">saponite</text>
<text x="174.8" y="235.8" font-size="12.2" font-style="italic">dolomite</text>
<text x="175.8" y="258.9" font-size="12.2" font-style="italic" fill="#1f8f4e">F-apatite</text>
<text x="163.8" y="275.7" font-size="12.2" font-style="italic">OH-apatite</text>
<rect x="69.7" y="185.2" width="182.89999999999998" height="92.80000000000001" fill="none" stroke="#231f20" stroke-width="1.3"/>
<rect x="264.5" y="262" width="182" height="16" fill="#9dd28a"/>
<path d="M264.5 203 Q266 201.3 270 201.3 L275.6 201.3 L275.6 208.7 L315 208.2 L345 208.8 L435 208.7 L435.5 260 L264.5 260 Z" fill="#acd8e6"/>
<path d="M264.5 228.6 Q267 216 273.5 213.8 L275.6 213.6 L275.6 260.2 L264.5 260.2 Z" fill="#2a2c80"/>
<path d="M435.5 260 L435.5 192 Q436 186.8 439 186.8 L446 186.8 L446 260 Z" fill="#2a2c80"/>
<rect x="275.6" y="259" width="24.4" height="8" fill="#acd8e6"/>
<path d="M264.5 260.6 L278.2 260.6 C280 261.5 281 265 282.3 266.3 L300 261.5 Q320 260.2 345 259.9 L446 259.8 L446 262.8 Q400 264.8 345 265.6 Q315 266.6 300 269 C292 270 287 271 285.7 273.1 C284 274.5 283 275.5 282.6 277.5 L282 277.5 C281.6 274.5 281 271 280.3 269.7 C279 267.5 278 266.8 276.8 266.8 L264.5 266.8 Z" fill="#0d7d3d"/>
<text x="265.4" y="197.7" font-size="15" font-weight="bold">e.</text>
<text x="277.2" y="233.6" font-size="12.2" font-style="italic" fill="#2e3190">saponite</text>
<text x="388.3" y="229.9" font-size="12.2" font-style="italic">dolomite</text>
<text x="332.8" y="255.4" font-size="12.2" font-style="italic" fill="#1f8f4e">F-apatite</text>
<text x="338.6" y="275.4" font-size="12.2" font-style="italic">OH-apatite</text>
<rect x="263.2" y="184.9" width="183.40000000000003" height="93.1" fill="none" stroke="#231f20" stroke-width="1.3"/>
<path d="M456.5 206.3 L481.6 207.2 Q490 209.5 498.7 210.4 L638.8 210.6 L638.8 277 L456.5 277 Z" fill="#acd8e6"/>
<path d="M484.3 276 Q488 264 500 263.3 Q510 261.8 540 261 L638.8 259.8 L638.8 277 Z" fill="#0d7d3d"/>
<path d="M493 276 Q497 270.5 505 269.3 Q515 268 540 267 L638.8 264.6 L638.8 277 Z" fill="#9dd28a"/>
<path d="M636.1 260 L637.3 186 L638.8 186 L638.8 260 Z" fill="#2a2c80"/>
<text x="460.5" y="197.4" font-size="15" font-weight="bold">f.</text>
<text x="491.3" y="235.4" font-size="12.2" font-style="italic">dolomite</text>
<text x="531.8" y="258.2" font-size="12.2" font-style="italic" fill="#1f8f4e">F-apatite</text>
<text x="548" y="275.3" font-size="12.2" font-style="italic">OH-apatite</text>
<text transform="translate(633.2,255.6) rotate(-90)" font-size="12.2" font-style="italic">saponite</text>
<rect x="455.7" y="184.9" width="183.8" height="92.6" fill="none" stroke="#231f20" stroke-width="1.3"/>
<rect x="70.5" y="360" width="182" height="15" fill="#9dd28a"/>
<path d="M70.5 312 L129.3 312 C131 313.5 133 320 135 323.5 C136.5 326 138.5 327 140 327 C141 325.5 142 322 143.5 319 L145.3 316 L145.3 353 L70.5 353 Z" fill="#4a9ac4"/>
<path d="M139.7 353.2 C140 342 141.5 330 142.5 324 C143 320 144 317.2 145.3 316 Q190 311.2 252.2 304.5 L252.2 353.2 Z" fill="#2a2c80"/>
<rect x="70.5" y="353" width="182" height="7.6" fill="#0d7d3d"/>
<text x="70.5" y="292.8" font-size="15" font-weight="bold">g.</text>
<text x="77" y="342.4" font-size="12.2" font-style="italic" fill="#ffffff">garnet</text>
<text x="203.4" y="348" font-size="12.2" font-style="italic" fill="#ffffff">saponite</text>
<rect x="69.7" y="282.2" width="182.89999999999998" height="92.60000000000002" fill="none" stroke="#231f20" stroke-width="1.3"/>
<rect x="264.5" y="292.1" width="182" height="62" fill="#acd8e6"/>
<rect x="264.5" y="360" width="182" height="14.5" fill="#9dd28a"/>
<path d="M264.5 354 L446 353.6 L446 361 L264.5 362 Z" fill="#0d7d3d"/>
<text x="265.7" y="294.6" font-size="15" font-weight="bold">h.</text>
<text x="345.6" y="311.8" font-size="12.2" font-style="italic">dolomite</text>
<text x="309.0" y="349.1" font-size="12.2" font-style="italic" fill="#1f8f4e">F-apatite</text>
<text x="305.6" y="371.8" font-size="12.2" font-style="italic">OH-apatite</text>
<rect x="263.6" y="282.0" width="182.7" height="92.5" fill="none" stroke="#231f20" stroke-width="1.3"/>
<rect x="456.5" y="292.1" width="182" height="62" fill="#acd8e6"/>
<rect x="456.5" y="360" width="182" height="14.5" fill="#9dd28a"/>
<path d="M456.5 354.4 L638.5 354.2 L638.5 362 L456.5 362 Z" fill="#0d7d3d"/>
<text x="460.0" y="292.6" font-size="15" font-weight="bold">i.</text>
<text x="530.4" y="313.3" font-size="12.2" font-style="italic">dolomite</text>
<text x="504.6" y="351.0" font-size="12.2" font-style="italic" fill="#1f8f4e">F-apatite</text>
<text x="510.0" y="371.4" font-size="12.2" font-style="italic">OH-apatite</text>
<rect x="456.0" y="282.0" width="182.79999999999995" height="92.5" fill="none" stroke="#231f20" stroke-width="1.3"/>
<line x1="66.7" y1="185.8" x2="69.7" y2="185.8" stroke="#231f20" stroke-width="1.1"/>
<line x1="66.7" y1="226.1" x2="69.7" y2="226.1" stroke="#231f20" stroke-width="1.1"/>
<line x1="66.7" y1="266.4" x2="69.7" y2="266.4" stroke="#231f20" stroke-width="1.1"/>
<line x1="68.10000000000001" y1="213.97" x2="69.7" y2="213.97" stroke="#231f20" stroke-width="0.6"/>
<line x1="68.10000000000001" y1="206.87" x2="69.7" y2="206.87" stroke="#231f20" stroke-width="0.6"/>
<line x1="68.10000000000001" y1="201.84" x2="69.7" y2="201.84" stroke="#231f20" stroke-width="0.6"/>
<line x1="68.10000000000001" y1="197.93" x2="69.7" y2="197.93" stroke="#231f20" stroke-width="0.6"/>
<line x1="68.10000000000001" y1="194.74" x2="69.7" y2="194.74" stroke="#231f20" stroke-width="0.6"/>
<line x1="68.10000000000001" y1="192.04" x2="69.7" y2="192.04" stroke="#231f20" stroke-width="0.6"/>
<line x1="68.10000000000001" y1="189.71" x2="69.7" y2="189.71" stroke="#231f20" stroke-width="0.6"/>
<line x1="68.10000000000001" y1="187.64" x2="69.7" y2="187.64" stroke="#231f20" stroke-width="0.6"/>
<line x1="68.10000000000001" y1="254.27" x2="69.7" y2="254.27" stroke="#231f20" stroke-width="0.6"/>
<line x1="68.10000000000001" y1="247.17" x2="69.7" y2="247.17" stroke="#231f20" stroke-width="0.6"/>
<line x1="68.10000000000001" y1="242.14" x2="69.7" y2="242.14" stroke="#231f20" stroke-width="0.6"/>
<line x1="68.10000000000001" y1="238.23" x2="69.7" y2="238.23" stroke="#231f20" stroke-width="0.6"/>
<line x1="68.10000000000001" y1="235.04" x2="69.7" y2="235.04" stroke="#231f20" stroke-width="0.6"/>
<line x1="68.10000000000001" y1="232.34" x2="69.7" y2="232.34" stroke="#231f20" stroke-width="0.6"/>
<line x1="68.10000000000001" y1="230.01" x2="69.7" y2="230.01" stroke="#231f20" stroke-width="0.6"/>
<line x1="68.10000000000001" y1="227.94" x2="69.7" y2="227.94" stroke="#231f20" stroke-width="0.6"/>
<line x1="68.10000000000001" y1="275.34" x2="69.7" y2="275.34" stroke="#231f20" stroke-width="0.6"/>
<line x1="68.10000000000001" y1="272.64" x2="69.7" y2="272.64" stroke="#231f20" stroke-width="0.6"/>
<line x1="68.10000000000001" y1="270.31" x2="69.7" y2="270.31" stroke="#231f20" stroke-width="0.6"/>
<line x1="68.10000000000001" y1="268.24" x2="69.7" y2="268.24" stroke="#231f20" stroke-width="0.6"/>
<text x="57.4" y="192.2" font-size="14.3" text-anchor="end">10</text>
<text x="58.4" y="187.2" font-size="9.6">-2</text>
<text x="57.4" y="231.1" font-size="14.3" text-anchor="end">10</text>
<text x="58.4" y="226.1" font-size="9.6">-3</text>
<text x="57.4" y="271.1" font-size="14.3" text-anchor="end">10</text>
<text x="58.4" y="266.1" font-size="9.6">-4</text>
<line x1="66.7" y1="311.7" x2="69.7" y2="311.7" stroke="#231f20" stroke-width="1.1"/>
<line x1="66.7" y1="359.3" x2="69.7" y2="359.3" stroke="#231f20" stroke-width="1.1"/>
<line x1="68.10000000000001" y1="297.37" x2="69.7" y2="297.37" stroke="#231f20" stroke-width="0.6"/>
<line x1="68.10000000000001" y1="288.99" x2="69.7" y2="288.99" stroke="#231f20" stroke-width="0.6"/>
<line x1="68.10000000000001" y1="283.04" x2="69.7" y2="283.04" stroke="#231f20" stroke-width="0.6"/>
<line x1="68.10000000000001" y1="344.97" x2="69.7" y2="344.97" stroke="#231f20" stroke-width="0.6"/>
<line x1="68.10000000000001" y1="336.59" x2="69.7" y2="336.59" stroke="#231f20" stroke-width="0.6"/>
<line x1="68.10000000000001" y1="330.64" x2="69.7" y2="330.64" stroke="#231f20" stroke-width="0.6"/>
<line x1="68.10000000000001" y1="326.03" x2="69.7" y2="326.03" stroke="#231f20" stroke-width="0.6"/>
<line x1="68.10000000000001" y1="322.26" x2="69.7" y2="322.26" stroke="#231f20" stroke-width="0.6"/>
<line x1="68.10000000000001" y1="319.07" x2="69.7" y2="319.07" stroke="#231f20" stroke-width="0.6"/>
<line x1="68.10000000000001" y1="316.31" x2="69.7" y2="316.31" stroke="#231f20" stroke-width="0.6"/>
<line x1="68.10000000000001" y1="313.88" x2="69.7" y2="313.88" stroke="#231f20" stroke-width="0.6"/>
<line x1="68.10000000000001" y1="373.63" x2="69.7" y2="373.63" stroke="#231f20" stroke-width="0.6"/>
<line x1="68.10000000000001" y1="369.86" x2="69.7" y2="369.86" stroke="#231f20" stroke-width="0.6"/>
<line x1="68.10000000000001" y1="366.67" x2="69.7" y2="366.67" stroke="#231f20" stroke-width="0.6"/>
<line x1="68.10000000000001" y1="363.91" x2="69.7" y2="363.91" stroke="#231f20" stroke-width="0.6"/>
<line x1="68.10000000000001" y1="361.48" x2="69.7" y2="361.48" stroke="#231f20" stroke-width="0.6"/>
<text x="56.4" y="316.5" font-size="14.3" text-anchor="end">10</text>
<text x="57.4" y="311.5" font-size="9.6">-1</text>
<text x="56.4" y="364.1" font-size="14.3" text-anchor="end">10</text>
<text x="57.4" y="359.1" font-size="9.6">-2</text>
<line x1="260.6" y1="185.8" x2="263.6" y2="185.8" stroke="#231f20" stroke-width="1.1"/>
<line x1="260.6" y1="226.1" x2="263.6" y2="226.1" stroke="#231f20" stroke-width="1.1"/>
<line x1="260.6" y1="266.4" x2="263.6" y2="266.4" stroke="#231f20" stroke-width="1.1"/>
<line x1="262.0" y1="213.97" x2="263.6" y2="213.97" stroke="#231f20" stroke-width="0.6"/>
<line x1="262.0" y1="206.87" x2="263.6" y2="206.87" stroke="#231f20" stroke-width="0.6"/>
<line x1="262.0" y1="201.84" x2="263.6" y2="201.84" stroke="#231f20" stroke-width="0.6"/>
<line x1="262.0" y1="197.93" x2="263.6" y2="197.93" stroke="#231f20" stroke-width="0.6"/>
<line x1="262.0" y1="194.74" x2="263.6" y2="194.74" stroke="#231f20" stroke-width="0.6"/>
<line x1="262.0" y1="192.04" x2="263.6" y2="192.04" stroke="#231f20" stroke-width="0.6"/>
<line x1="262.0" y1="189.71" x2="263.6" y2="189.71" stroke="#231f20" stroke-width="0.6"/>
<line x1="262.0" y1="187.64" x2="263.6" y2="187.64" stroke="#231f20" stroke-width="0.6"/>
<line x1="262.0" y1="254.27" x2="263.6" y2="254.27" stroke="#231f20" stroke-width="0.6"/>
<line x1="262.0" y1="247.17" x2="263.6" y2="247.17" stroke="#231f20" stroke-width="0.6"/>
<line x1="262.0" y1="242.14" x2="263.6" y2="242.14" stroke="#231f20" stroke-width="0.6"/>
<line x1="262.0" y1="238.23" x2="263.6" y2="238.23" stroke="#231f20" stroke-width="0.6"/>
<line x1="262.0" y1="235.04" x2="263.6" y2="235.04" stroke="#231f20" stroke-width="0.6"/>
<line x1="262.0" y1="232.34" x2="263.6" y2="232.34" stroke="#231f20" stroke-width="0.6"/>
<line x1="262.0" y1="230.01" x2="263.6" y2="230.01" stroke="#231f20" stroke-width="0.6"/>
<line x1="262.0" y1="227.94" x2="263.6" y2="227.94" stroke="#231f20" stroke-width="0.6"/>
<line x1="262.0" y1="275.34" x2="263.6" y2="275.34" stroke="#231f20" stroke-width="0.6"/>
<line x1="262.0" y1="272.64" x2="263.6" y2="272.64" stroke="#231f20" stroke-width="0.6"/>
<line x1="262.0" y1="270.31" x2="263.6" y2="270.31" stroke="#231f20" stroke-width="0.6"/>
<line x1="262.0" y1="268.24" x2="263.6" y2="268.24" stroke="#231f20" stroke-width="0.6"/>
<line x1="260.6" y1="311.7" x2="263.6" y2="311.7" stroke="#231f20" stroke-width="1.1"/>
<line x1="260.6" y1="359.3" x2="263.6" y2="359.3" stroke="#231f20" stroke-width="1.1"/>
<line x1="262.0" y1="297.37" x2="263.6" y2="297.37" stroke="#231f20" stroke-width="0.6"/>
<line x1="262.0" y1="288.99" x2="263.6" y2="288.99" stroke="#231f20" stroke-width="0.6"/>
<line x1="262.0" y1="283.04" x2="263.6" y2="283.04" stroke="#231f20" stroke-width="0.6"/>
<line x1="262.0" y1="344.97" x2="263.6" y2="344.97" stroke="#231f20" stroke-width="0.6"/>
<line x1="262.0" y1="336.59" x2="263.6" y2="336.59" stroke="#231f20" stroke-width="0.6"/>
<line x1="262.0" y1="330.64" x2="263.6" y2="330.64" stroke="#231f20" stroke-width="0.6"/>
<line x1="262.0" y1="326.03" x2="263.6" y2="326.03" stroke="#231f20" stroke-width="0.6"/>
<line x1="262.0" y1="322.26" x2="263.6" y2="322.26" stroke="#231f20" stroke-width="0.6"/>
<line x1="262.0" y1="319.07" x2="263.6" y2="319.07" stroke="#231f20" stroke-width="0.6"/>
<line x1="262.0" y1="316.31" x2="263.6" y2="316.31" stroke="#231f20" stroke-width="0.6"/>
<line x1="262.0" y1="313.88" x2="263.6" y2="313.88" stroke="#231f20" stroke-width="0.6"/>
<line x1="262.0" y1="373.63" x2="263.6" y2="373.63" stroke="#231f20" stroke-width="0.6"/>
<line x1="262.0" y1="369.86" x2="263.6" y2="369.86" stroke="#231f20" stroke-width="0.6"/>
<line x1="262.0" y1="366.67" x2="263.6" y2="366.67" stroke="#231f20" stroke-width="0.6"/>
<line x1="262.0" y1="363.91" x2="263.6" y2="363.91" stroke="#231f20" stroke-width="0.6"/>
<line x1="262.0" y1="361.48" x2="263.6" y2="361.48" stroke="#231f20" stroke-width="0.6"/>
<line x1="452.9" y1="185.8" x2="455.9" y2="185.8" stroke="#231f20" stroke-width="1.1"/>
<line x1="452.9" y1="226.1" x2="455.9" y2="226.1" stroke="#231f20" stroke-width="1.1"/>
<line x1="452.9" y1="266.4" x2="455.9" y2="266.4" stroke="#231f20" stroke-width="1.1"/>
<line x1="454.29999999999995" y1="213.97" x2="455.9" y2="213.97" stroke="#231f20" stroke-width="0.6"/>
<line x1="454.29999999999995" y1="206.87" x2="455.9" y2="206.87" stroke="#231f20" stroke-width="0.6"/>
<line x1="454.29999999999995" y1="201.84" x2="455.9" y2="201.84" stroke="#231f20" stroke-width="0.6"/>
<line x1="454.29999999999995" y1="197.93" x2="455.9" y2="197.93" stroke="#231f20" stroke-width="0.6"/>
<line x1="454.29999999999995" y1="194.74" x2="455.9" y2="194.74" stroke="#231f20" stroke-width="0.6"/>
<line x1="454.29999999999995" y1="192.04" x2="455.9" y2="192.04" stroke="#231f20" stroke-width="0.6"/>
<line x1="454.29999999999995" y1="189.71" x2="455.9" y2="189.71" stroke="#231f20" stroke-width="0.6"/>
<line x1="454.29999999999995" y1="187.64" x2="455.9" y2="187.64" stroke="#231f20" stroke-width="0.6"/>
<line x1="454.29999999999995" y1="254.27" x2="455.9" y2="254.27" stroke="#231f20" stroke-width="0.6"/>
<line x1="454.29999999999995" y1="247.17" x2="455.9" y2="247.17" stroke="#231f20" stroke-width="0.6"/>
<line x1="454.29999999999995" y1="242.14" x2="455.9" y2="242.14" stroke="#231f20" stroke-width="0.6"/>
<line x1="454.29999999999995" y1="238.23" x2="455.9" y2="238.23" stroke="#231f20" stroke-width="0.6"/>
<line x1="454.29999999999995" y1="235.04" x2="455.9" y2="235.04" stroke="#231f20" stroke-width="0.6"/>
<line x1="454.29999999999995" y1="232.34" x2="455.9" y2="232.34" stroke="#231f20" stroke-width="0.6"/>
<line x1="454.29999999999995" y1="230.01" x2="455.9" y2="230.01" stroke="#231f20" stroke-width="0.6"/>
<line x1="454.29999999999995" y1="227.94" x2="455.9" y2="227.94" stroke="#231f20" stroke-width="0.6"/>
<line x1="454.29999999999995" y1="275.34" x2="455.9" y2="275.34" stroke="#231f20" stroke-width="0.6"/>
<line x1="454.29999999999995" y1="272.64" x2="455.9" y2="272.64" stroke="#231f20" stroke-width="0.6"/>
<line x1="454.29999999999995" y1="270.31" x2="455.9" y2="270.31" stroke="#231f20" stroke-width="0.6"/>
<line x1="454.29999999999995" y1="268.24" x2="455.9" y2="268.24" stroke="#231f20" stroke-width="0.6"/>
<line x1="452.9" y1="311.7" x2="455.9" y2="311.7" stroke="#231f20" stroke-width="1.1"/>
<line x1="452.9" y1="359.3" x2="455.9" y2="359.3" stroke="#231f20" stroke-width="1.1"/>
<line x1="454.29999999999995" y1="297.37" x2="455.9" y2="297.37" stroke="#231f20" stroke-width="0.6"/>
<line x1="454.29999999999995" y1="288.99" x2="455.9" y2="288.99" stroke="#231f20" stroke-width="0.6"/>
<line x1="454.29999999999995" y1="283.04" x2="455.9" y2="283.04" stroke="#231f20" stroke-width="0.6"/>
<line x1="454.29999999999995" y1="344.97" x2="455.9" y2="344.97" stroke="#231f20" stroke-width="0.6"/>
<line x1="454.29999999999995" y1="336.59" x2="455.9" y2="336.59" stroke="#231f20" stroke-width="0.6"/>
<line x1="454.29999999999995" y1="330.64" x2="455.9" y2="330.64" stroke="#231f20" stroke-width="0.6"/>
<line x1="454.29999999999995" y1="326.03" x2="455.9" y2="326.03" stroke="#231f20" stroke-width="0.6"/>
<line x1="454.29999999999995" y1="322.26" x2="455.9" y2="322.26" stroke="#231f20" stroke-width="0.6"/>
<line x1="454.29999999999995" y1="319.07" x2="455.9" y2="319.07" stroke="#231f20" stroke-width="0.6"/>
<line x1="454.29999999999995" y1="316.31" x2="455.9" y2="316.31" stroke="#231f20" stroke-width="0.6"/>
<line x1="454.29999999999995" y1="313.88" x2="455.9" y2="313.88" stroke="#231f20" stroke-width="0.6"/>
<line x1="454.29999999999995" y1="373.63" x2="455.9" y2="373.63" stroke="#231f20" stroke-width="0.6"/>
<line x1="454.29999999999995" y1="369.86" x2="455.9" y2="369.86" stroke="#231f20" stroke-width="0.6"/>
<line x1="454.29999999999995" y1="366.67" x2="455.9" y2="366.67" stroke="#231f20" stroke-width="0.6"/>
<line x1="454.29999999999995" y1="363.91" x2="455.9" y2="363.91" stroke="#231f20" stroke-width="0.6"/>
<line x1="454.29999999999995" y1="361.48" x2="455.9" y2="361.48" stroke="#231f20" stroke-width="0.6"/>
<line x1="69.7" y1="374.5" x2="69.7" y2="378" stroke="#231f20" stroke-width="1.1"/>
<line x1="100.18" y1="374.5" x2="100.18" y2="378" stroke="#231f20" stroke-width="1.1"/>
<line x1="130.67" y1="374.5" x2="130.67" y2="378" stroke="#231f20" stroke-width="1.1"/>
<line x1="161.15" y1="374.5" x2="161.15" y2="378" stroke="#231f20" stroke-width="1.1"/>
<line x1="191.63" y1="374.5" x2="191.63" y2="378" stroke="#231f20" stroke-width="1.1"/>
<line x1="222.12" y1="374.5" x2="222.12" y2="378" stroke="#231f20" stroke-width="1.1"/>
<line x1="252.6" y1="374.5" x2="252.6" y2="378" stroke="#231f20" stroke-width="1.1"/>
<line x1="263.6" y1="374.5" x2="263.6" y2="378" stroke="#231f20" stroke-width="1.1"/>
<line x1="294.05" y1="374.5" x2="294.05" y2="378" stroke="#231f20" stroke-width="1.1"/>
<line x1="324.5" y1="374.5" x2="324.5" y2="378" stroke="#231f20" stroke-width="1.1"/>
<line x1="354.95" y1="374.5" x2="354.95" y2="378" stroke="#231f20" stroke-width="1.1"/>
<line x1="385.4" y1="374.5" x2="385.4" y2="378" stroke="#231f20" stroke-width="1.1"/>
<line x1="415.85" y1="374.5" x2="415.85" y2="378" stroke="#231f20" stroke-width="1.1"/>
<line x1="446.3" y1="374.5" x2="446.3" y2="378" stroke="#231f20" stroke-width="1.1"/>
<line x1="456.0" y1="374.5" x2="456.0" y2="378" stroke="#231f20" stroke-width="1.1"/>
<line x1="486.47" y1="374.5" x2="486.47" y2="378" stroke="#231f20" stroke-width="1.1"/>
<line x1="516.93" y1="374.5" x2="516.93" y2="378" stroke="#231f20" stroke-width="1.1"/>
<line x1="547.4" y1="374.5" x2="547.4" y2="378" stroke="#231f20" stroke-width="1.1"/>
<line x1="577.87" y1="374.5" x2="577.87" y2="378" stroke="#231f20" stroke-width="1.1"/>
<line x1="608.33" y1="374.5" x2="608.33" y2="378" stroke="#231f20" stroke-width="1.1"/>
<line x1="638.8" y1="374.5" x2="638.8" y2="378" stroke="#231f20" stroke-width="1.1"/>
<text x="69" y="389.9" font-size="14.5" text-anchor="middle">0</text>
<text x="131.5" y="389.9" font-size="14.5" text-anchor="middle">100</text>
<text x="189.2" y="389.9" font-size="14.5" text-anchor="middle">200</text>
<text x="238.1" y="389.9" font-size="14.5" text-anchor="middle">300</text>
<text x="265" y="389.9" font-size="14.5" text-anchor="middle">0</text>
<text x="326.8" y="389.9" font-size="14.5" text-anchor="middle">100</text>
<text x="385.2" y="389.9" font-size="14.5" text-anchor="middle">200</text>
<text x="433.8" y="389.9" font-size="14.5" text-anchor="middle">300</text>
<text x="460.8" y="389.9" font-size="14.5" text-anchor="middle">0</text>
<text x="517.3" y="389.9" font-size="14.5" text-anchor="middle">100</text>
<text x="575.6" y="389.9" font-size="14.5" text-anchor="middle">200</text>
<text x="629.2" y="389.9" font-size="14.5" text-anchor="middle">300</text>
</svg>
</body></html>
